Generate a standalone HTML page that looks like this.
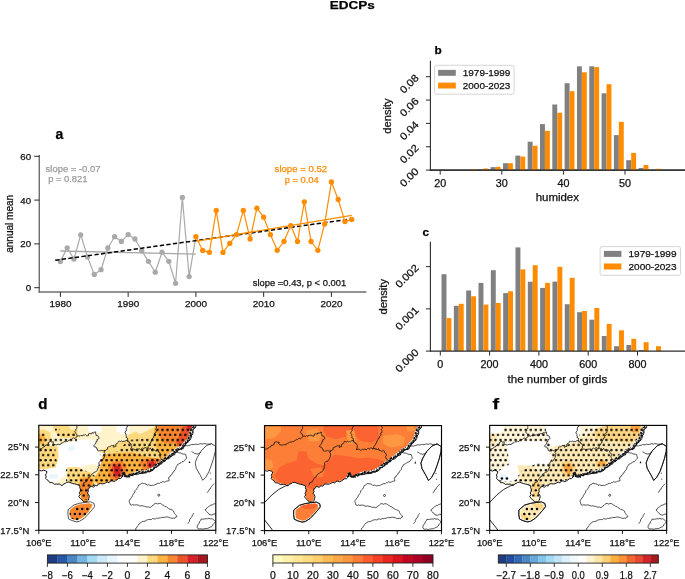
<!DOCTYPE html>
<html><head><meta charset="utf-8"><style>
html,body{margin:0;padding:0;background:#fff;width:685px;height:579px;overflow:hidden}
svg{display:block;will-change:transform}
text{font-family:"Liberation Sans", sans-serif}
</style></head><body>
<svg width="685" height="579" viewBox="0 0 685 579">
<rect width="685" height="579" fill="#fff"/>
<text x="352.20" y="9.10" font-size="11.8" fill="#000" stroke="#000" stroke-width="0.25" text-anchor="middle" font-weight="bold" textLength="45.00" lengthAdjust="spacingAndGlyphs" >EDCPs</text>
<line x1="39.30" y1="155.00" x2="39.30" y2="292.60" stroke="#6e6e6e" stroke-width="1.45" />
<line x1="38.60" y1="291.95" x2="366.40" y2="291.95" stroke="#6e6e6e" stroke-width="1.45" />
<line x1="34.20" y1="287.70" x2="39.40" y2="287.70" stroke="#2b2b2b" stroke-width="1.0" />
<text x="31.10" y="291.20" font-size="9.7" fill="#111" stroke="#111" stroke-width="0.25" text-anchor="end" >0</text>
<line x1="34.20" y1="243.90" x2="39.40" y2="243.90" stroke="#2b2b2b" stroke-width="1.0" />
<text x="31.10" y="247.40" font-size="9.7" fill="#111" stroke="#111" stroke-width="0.25" text-anchor="end" >20</text>
<line x1="34.20" y1="200.10" x2="39.40" y2="200.10" stroke="#2b2b2b" stroke-width="1.0" />
<text x="31.10" y="203.60" font-size="9.7" fill="#111" stroke="#111" stroke-width="0.25" text-anchor="end" >40</text>
<line x1="34.20" y1="156.30" x2="39.40" y2="156.30" stroke="#2b2b2b" stroke-width="1.0" />
<text x="31.10" y="159.80" font-size="9.7" fill="#111" stroke="#111" stroke-width="0.25" text-anchor="end" >60</text>
<line x1="60.40" y1="292.10" x2="60.40" y2="296.90" stroke="#2b2b2b" stroke-width="1.0" />
<text x="60.60" y="307.00" font-size="9.7" fill="#111" stroke="#111" stroke-width="0.25" text-anchor="middle" textLength="22.00" lengthAdjust="spacingAndGlyphs" >1980</text>
<line x1="128.15" y1="292.10" x2="128.15" y2="296.90" stroke="#2b2b2b" stroke-width="1.0" />
<text x="128.35" y="307.00" font-size="9.7" fill="#111" stroke="#111" stroke-width="0.25" text-anchor="middle" textLength="22.00" lengthAdjust="spacingAndGlyphs" >1990</text>
<line x1="195.90" y1="292.10" x2="195.90" y2="296.90" stroke="#2b2b2b" stroke-width="1.0" />
<text x="196.10" y="307.00" font-size="9.7" fill="#111" stroke="#111" stroke-width="0.25" text-anchor="middle" textLength="22.00" lengthAdjust="spacingAndGlyphs" >2000</text>
<line x1="263.65" y1="292.10" x2="263.65" y2="296.90" stroke="#2b2b2b" stroke-width="1.0" />
<text x="263.85" y="307.00" font-size="9.7" fill="#111" stroke="#111" stroke-width="0.25" text-anchor="middle" textLength="22.00" lengthAdjust="spacingAndGlyphs" >2010</text>
<line x1="331.40" y1="292.10" x2="331.40" y2="296.90" stroke="#2b2b2b" stroke-width="1.0" />
<text x="331.60" y="307.00" font-size="9.7" fill="#111" stroke="#111" stroke-width="0.25" text-anchor="middle" textLength="22.00" lengthAdjust="spacingAndGlyphs" >2020</text>
<text x="13.20" y="223.80" font-size="10" fill="#111" stroke="#111" stroke-width="0.25" text-anchor="middle" textLength="58.00" lengthAdjust="spacingAndGlyphs" transform="rotate(-90 13.20 223.80)" >annual mean</text>
<text x="55.60" y="138.80" font-size="14" fill="#000" stroke="#000" stroke-width="0.25" font-weight="bold" >a</text>
<line x1="60.40" y1="251.00" x2="195.90" y2="254.10" stroke="#a9a9a9" stroke-width="1.3" />
<polyline points="60.40,261.50 67.17,247.80 73.95,259.10 80.72,234.80 87.50,256.90 94.28,274.40 101.05,269.70 107.83,248.00 114.60,236.70 121.38,241.40 128.15,234.60 134.93,239.00 141.70,250.80 148.47,261.30 155.25,272.20 162.03,252.20 168.80,261.30 175.58,283.30 182.35,197.50 189.12,276.60 195.90,236.70" stroke="#a9a9a9" stroke-width="1.2" fill="none" stroke-linejoin="round" />
<circle cx="60.40" cy="261.50" r="2.65" fill="#a9a9a9"/>
<circle cx="67.17" cy="247.80" r="2.65" fill="#a9a9a9"/>
<circle cx="73.95" cy="259.10" r="2.65" fill="#a9a9a9"/>
<circle cx="80.72" cy="234.80" r="2.65" fill="#a9a9a9"/>
<circle cx="87.50" cy="256.90" r="2.65" fill="#a9a9a9"/>
<circle cx="94.28" cy="274.40" r="2.65" fill="#a9a9a9"/>
<circle cx="101.05" cy="269.70" r="2.65" fill="#a9a9a9"/>
<circle cx="107.83" cy="248.00" r="2.65" fill="#a9a9a9"/>
<circle cx="114.60" cy="236.70" r="2.65" fill="#a9a9a9"/>
<circle cx="121.38" cy="241.40" r="2.65" fill="#a9a9a9"/>
<circle cx="128.15" cy="234.60" r="2.65" fill="#a9a9a9"/>
<circle cx="134.93" cy="239.00" r="2.65" fill="#a9a9a9"/>
<circle cx="141.70" cy="250.80" r="2.65" fill="#a9a9a9"/>
<circle cx="148.47" cy="261.30" r="2.65" fill="#a9a9a9"/>
<circle cx="155.25" cy="272.20" r="2.65" fill="#a9a9a9"/>
<circle cx="162.03" cy="252.20" r="2.65" fill="#a9a9a9"/>
<circle cx="168.80" cy="261.30" r="2.65" fill="#a9a9a9"/>
<circle cx="175.58" cy="283.30" r="2.65" fill="#a9a9a9"/>
<circle cx="182.35" cy="197.50" r="2.65" fill="#a9a9a9"/>
<circle cx="189.12" cy="276.60" r="2.65" fill="#a9a9a9"/>
<line x1="53.62" y1="260.50" x2="351.72" y2="218.90" stroke="#000" stroke-width="1.5" stroke-dasharray="4.3 2.3" stroke-dashoffset="-1.6"/>
<line x1="195.90" y1="241.30" x2="351.72" y2="215.30" stroke="#ff8c00" stroke-width="1.3" />
<polyline points="195.90,236.70 202.68,250.40 209.45,252.30 216.23,210.40 223.00,252.40 229.78,243.40 236.55,234.60 243.33,210.40 250.10,239.00 256.88,208.20 263.65,217.20 270.43,234.60 277.20,250.30 283.98,241.50 290.75,225.60 297.52,241.50 304.30,201.80 311.07,241.50 317.85,250.30 324.62,223.90 331.40,182.00 338.18,199.50 344.95,221.60 351.72,219.40" stroke="#ff8c00" stroke-width="1.2" fill="none" stroke-linejoin="round" />
<circle cx="195.90" cy="236.70" r="2.65" fill="#ff8c00"/>
<circle cx="202.68" cy="250.40" r="2.65" fill="#ff8c00"/>
<circle cx="209.45" cy="252.30" r="2.65" fill="#ff8c00"/>
<circle cx="216.23" cy="210.40" r="2.65" fill="#ff8c00"/>
<circle cx="223.00" cy="252.40" r="2.65" fill="#ff8c00"/>
<circle cx="229.78" cy="243.40" r="2.65" fill="#ff8c00"/>
<circle cx="236.55" cy="234.60" r="2.65" fill="#ff8c00"/>
<circle cx="243.33" cy="210.40" r="2.65" fill="#ff8c00"/>
<circle cx="250.10" cy="239.00" r="2.65" fill="#ff8c00"/>
<circle cx="256.88" cy="208.20" r="2.65" fill="#ff8c00"/>
<circle cx="263.65" cy="217.20" r="2.65" fill="#ff8c00"/>
<circle cx="270.43" cy="234.60" r="2.65" fill="#ff8c00"/>
<circle cx="277.20" cy="250.30" r="2.65" fill="#ff8c00"/>
<circle cx="283.98" cy="241.50" r="2.65" fill="#ff8c00"/>
<circle cx="290.75" cy="225.60" r="2.65" fill="#ff8c00"/>
<circle cx="297.52" cy="241.50" r="2.65" fill="#ff8c00"/>
<circle cx="304.30" cy="201.80" r="2.65" fill="#ff8c00"/>
<circle cx="311.07" cy="241.50" r="2.65" fill="#ff8c00"/>
<circle cx="317.85" cy="250.30" r="2.65" fill="#ff8c00"/>
<circle cx="324.62" cy="223.90" r="2.65" fill="#ff8c00"/>
<circle cx="331.40" cy="182.00" r="2.65" fill="#ff8c00"/>
<circle cx="338.18" cy="199.50" r="2.65" fill="#ff8c00"/>
<circle cx="344.95" cy="221.60" r="2.65" fill="#ff8c00"/>
<circle cx="351.72" cy="219.40" r="2.65" fill="#ff8c00"/>
<text x="45.60" y="171.90" font-size="9.7" fill="#9b9b9b" stroke="#9b9b9b" stroke-width="0.25" textLength="54.80" lengthAdjust="spacingAndGlyphs" >slope = -0.07</text>
<text x="48.20" y="182.40" font-size="9.7" fill="#9b9b9b" stroke="#9b9b9b" stroke-width="0.25" textLength="39.20" lengthAdjust="spacingAndGlyphs" >p = 0.821</text>
<text x="274.60" y="171.70" font-size="9.7" fill="#ff8c00" stroke="#ff8c00" stroke-width="0.25" textLength="52.50" lengthAdjust="spacingAndGlyphs" >slope = 0.52</text>
<text x="284.80" y="182.50" font-size="9.7" fill="#ff8c00" stroke="#ff8c00" stroke-width="0.25" textLength="33.90" lengthAdjust="spacingAndGlyphs" >p = 0.04</text>
<text x="252.80" y="286.30" font-size="9.7" fill="#111" stroke="#111" stroke-width="0.25" textLength="93.40" lengthAdjust="spacingAndGlyphs" >slope =0.43, p &lt; 0.001</text>
<line x1="430.40" y1="60.80" x2="430.40" y2="170.60" stroke="#2b2b2b" stroke-width="1.1" />
<line x1="429.90" y1="170.10" x2="685.00" y2="170.10" stroke="#2b2b2b" stroke-width="1.1" />
<rect x="471.00" y="169.10" width="4.93" height="1.00" fill="#ff8c00" />
<rect x="478.39" y="169.10" width="4.93" height="1.00" fill="#808080" />
<rect x="483.32" y="168.50" width="4.93" height="1.60" fill="#ff8c00" />
<rect x="490.71" y="167.10" width="4.93" height="3.00" fill="#808080" />
<rect x="495.64" y="166.80" width="4.93" height="3.30" fill="#ff8c00" />
<rect x="503.03" y="163.20" width="4.93" height="6.90" fill="#808080" />
<rect x="507.96" y="163.20" width="4.93" height="6.90" fill="#ff8c00" />
<rect x="515.35" y="155.60" width="4.93" height="14.50" fill="#808080" />
<rect x="520.28" y="156.60" width="4.93" height="13.50" fill="#ff8c00" />
<rect x="527.67" y="141.70" width="4.93" height="28.40" fill="#808080" />
<rect x="532.60" y="145.70" width="4.93" height="24.40" fill="#ff8c00" />
<rect x="539.99" y="124.10" width="4.93" height="46.00" fill="#808080" />
<rect x="544.92" y="130.80" width="4.93" height="39.30" fill="#ff8c00" />
<rect x="552.31" y="104.50" width="4.93" height="65.60" fill="#808080" />
<rect x="557.24" y="112.80" width="4.93" height="57.30" fill="#ff8c00" />
<rect x="564.63" y="83.20" width="4.93" height="86.90" fill="#808080" />
<rect x="569.56" y="91.20" width="4.93" height="78.90" fill="#ff8c00" />
<rect x="576.95" y="66.30" width="4.93" height="103.80" fill="#808080" />
<rect x="581.88" y="72.30" width="4.93" height="97.80" fill="#ff8c00" />
<rect x="589.27" y="66.30" width="4.93" height="103.80" fill="#808080" />
<rect x="594.20" y="67.10" width="4.93" height="103.00" fill="#ff8c00" />
<rect x="601.59" y="93.30" width="4.93" height="76.80" fill="#808080" />
<rect x="606.52" y="84.20" width="4.93" height="85.90" fill="#ff8c00" />
<rect x="613.91" y="135.10" width="4.93" height="35.00" fill="#808080" />
<rect x="618.84" y="121.90" width="4.93" height="48.20" fill="#ff8c00" />
<rect x="626.23" y="160.20" width="4.93" height="9.90" fill="#808080" />
<rect x="631.16" y="152.90" width="4.93" height="17.20" fill="#ff8c00" />
<rect x="638.55" y="168.00" width="4.93" height="2.10" fill="#808080" />
<rect x="643.48" y="165.00" width="4.93" height="5.10" fill="#ff8c00" />
<rect x="655.80" y="168.80" width="4.93" height="1.30" fill="#ff8c00" />
<line x1="429.90" y1="170.10" x2="685.00" y2="170.10" stroke="#2b2b2b" stroke-width="1.1" />
<line x1="440.20" y1="170.10" x2="440.20" y2="174.60" stroke="#2b2b2b" stroke-width="1.0" />
<text x="440.20" y="186.70" font-size="10.2" fill="#111" stroke="#111" stroke-width="0.25" text-anchor="middle" textLength="12.00" lengthAdjust="spacingAndGlyphs" >20</text>
<line x1="501.80" y1="170.10" x2="501.80" y2="174.60" stroke="#2b2b2b" stroke-width="1.0" />
<text x="501.80" y="186.70" font-size="10.2" fill="#111" stroke="#111" stroke-width="0.25" text-anchor="middle" textLength="12.00" lengthAdjust="spacingAndGlyphs" >30</text>
<line x1="563.40" y1="170.10" x2="563.40" y2="174.60" stroke="#2b2b2b" stroke-width="1.0" />
<text x="563.40" y="186.70" font-size="10.2" fill="#111" stroke="#111" stroke-width="0.25" text-anchor="middle" textLength="12.00" lengthAdjust="spacingAndGlyphs" >40</text>
<line x1="625.00" y1="170.10" x2="625.00" y2="174.60" stroke="#2b2b2b" stroke-width="1.0" />
<text x="625.00" y="186.70" font-size="10.2" fill="#111" stroke="#111" stroke-width="0.25" text-anchor="middle" textLength="12.00" lengthAdjust="spacingAndGlyphs" >50</text>
<line x1="425.90" y1="170.10" x2="430.40" y2="170.10" stroke="#2b2b2b" stroke-width="1.0" />
<line x1="425.90" y1="146.75" x2="430.40" y2="146.75" stroke="#2b2b2b" stroke-width="1.0" />
<line x1="425.90" y1="123.40" x2="430.40" y2="123.40" stroke="#2b2b2b" stroke-width="1.0" />
<line x1="425.90" y1="100.05" x2="430.40" y2="100.05" stroke="#2b2b2b" stroke-width="1.0" />
<line x1="425.90" y1="76.70" x2="430.40" y2="76.70" stroke="#2b2b2b" stroke-width="1.0" />
<text x="557.30" y="201.30" font-size="10.4" fill="#111" stroke="#111" stroke-width="0.25" text-anchor="middle" textLength="43.30" lengthAdjust="spacingAndGlyphs" >humidex</text>
<text x="391.00" y="116.00" font-size="10.2" fill="#111" stroke="#111" stroke-width="0.25" text-anchor="middle" textLength="35.40" lengthAdjust="spacingAndGlyphs" transform="rotate(-90 391.00 116.00)" >density</text>
<text x="434.40" y="53.80" font-size="11.8" fill="#000" stroke="#000" stroke-width="0.25" font-weight="bold" >b</text>
<rect x="434.6" y="65.3" width="79.5" height="28.9" rx="2" ry="2" fill="#fff" stroke="#d0d0d0" stroke-width="0.9"/>
<rect x="438.10" y="69.90" width="17.70" height="5.90" fill="#808080" />
<rect x="438.10" y="82.60" width="17.70" height="5.90" fill="#ff8c00" />
<text x="462.80" y="76.30" font-size="9.8" fill="#111" stroke="#111" stroke-width="0.25" textLength="47.60" lengthAdjust="spacingAndGlyphs" >1979-1999</text>
<text x="462.80" y="88.70" font-size="9.8" fill="#111" stroke="#111" stroke-width="0.25" textLength="47.60" lengthAdjust="spacingAndGlyphs" >2000-2023</text>
<line x1="430.40" y1="241.70" x2="430.40" y2="351.60" stroke="#2b2b2b" stroke-width="1.1" />
<rect x="441.53" y="274.20" width="4.93" height="76.90" fill="#808080" />
<rect x="446.46" y="318.10" width="4.93" height="33.00" fill="#ff8c00" />
<rect x="453.86" y="305.80" width="4.93" height="45.30" fill="#808080" />
<rect x="458.79" y="303.80" width="4.93" height="47.30" fill="#ff8c00" />
<rect x="466.18" y="290.50" width="4.93" height="60.60" fill="#808080" />
<rect x="471.11" y="296.30" width="4.93" height="54.80" fill="#ff8c00" />
<rect x="478.51" y="282.90" width="4.93" height="68.20" fill="#808080" />
<rect x="483.44" y="304.60" width="4.93" height="46.50" fill="#ff8c00" />
<rect x="490.83" y="270.20" width="4.93" height="80.90" fill="#808080" />
<rect x="495.76" y="303.00" width="4.93" height="48.10" fill="#ff8c00" />
<rect x="503.16" y="293.10" width="4.93" height="58.00" fill="#808080" />
<rect x="508.09" y="291.30" width="4.93" height="59.80" fill="#ff8c00" />
<rect x="515.48" y="247.40" width="4.93" height="103.70" fill="#808080" />
<rect x="520.41" y="269.40" width="4.93" height="81.70" fill="#ff8c00" />
<rect x="527.81" y="281.70" width="4.93" height="69.40" fill="#808080" />
<rect x="532.74" y="265.20" width="4.93" height="85.90" fill="#ff8c00" />
<rect x="540.13" y="287.90" width="4.93" height="63.20" fill="#808080" />
<rect x="545.06" y="282.90" width="4.93" height="68.20" fill="#ff8c00" />
<rect x="552.46" y="281.60" width="4.93" height="69.50" fill="#808080" />
<rect x="557.39" y="266.80" width="4.93" height="84.30" fill="#ff8c00" />
<rect x="564.78" y="304.20" width="4.93" height="46.90" fill="#808080" />
<rect x="569.71" y="277.80" width="4.93" height="73.30" fill="#ff8c00" />
<rect x="577.11" y="312.20" width="4.93" height="38.90" fill="#808080" />
<rect x="582.04" y="311.00" width="4.93" height="40.10" fill="#ff8c00" />
<rect x="589.43" y="319.70" width="4.93" height="31.40" fill="#808080" />
<rect x="594.36" y="308.00" width="4.93" height="43.10" fill="#ff8c00" />
<rect x="601.76" y="336.00" width="4.93" height="15.10" fill="#808080" />
<rect x="606.69" y="323.90" width="4.93" height="27.20" fill="#ff8c00" />
<rect x="614.08" y="346.20" width="4.93" height="4.90" fill="#808080" />
<rect x="619.01" y="330.30" width="4.93" height="20.80" fill="#ff8c00" />
<rect x="626.41" y="345.00" width="4.93" height="6.10" fill="#808080" />
<rect x="631.34" y="338.80" width="4.93" height="12.30" fill="#ff8c00" />
<rect x="638.73" y="350.00" width="4.93" height="1.10" fill="#808080" />
<rect x="643.66" y="342.20" width="4.93" height="8.90" fill="#ff8c00" />
<rect x="655.99" y="346.20" width="4.93" height="4.90" fill="#ff8c00" />
<line x1="429.90" y1="351.10" x2="685.00" y2="351.10" stroke="#2b2b2b" stroke-width="1.1" />
<line x1="440.30" y1="351.10" x2="440.30" y2="355.60" stroke="#2b2b2b" stroke-width="1.0" />
<text x="440.30" y="367.90" font-size="10.2" fill="#111" stroke="#111" stroke-width="0.25" text-anchor="middle" textLength="6.00" lengthAdjust="spacingAndGlyphs" >0</text>
<line x1="489.60" y1="351.10" x2="489.60" y2="355.60" stroke="#2b2b2b" stroke-width="1.0" />
<text x="489.60" y="367.90" font-size="10.2" fill="#111" stroke="#111" stroke-width="0.25" text-anchor="middle" textLength="18.00" lengthAdjust="spacingAndGlyphs" >200</text>
<line x1="538.90" y1="351.10" x2="538.90" y2="355.60" stroke="#2b2b2b" stroke-width="1.0" />
<text x="538.90" y="367.90" font-size="10.2" fill="#111" stroke="#111" stroke-width="0.25" text-anchor="middle" textLength="18.00" lengthAdjust="spacingAndGlyphs" >400</text>
<line x1="588.20" y1="351.10" x2="588.20" y2="355.60" stroke="#2b2b2b" stroke-width="1.0" />
<text x="588.20" y="367.90" font-size="10.2" fill="#111" stroke="#111" stroke-width="0.25" text-anchor="middle" textLength="18.00" lengthAdjust="spacingAndGlyphs" >600</text>
<line x1="637.50" y1="351.10" x2="637.50" y2="355.60" stroke="#2b2b2b" stroke-width="1.0" />
<text x="637.50" y="367.90" font-size="10.2" fill="#111" stroke="#111" stroke-width="0.25" text-anchor="middle" textLength="18.00" lengthAdjust="spacingAndGlyphs" >800</text>
<line x1="425.90" y1="351.10" x2="430.40" y2="351.10" stroke="#2b2b2b" stroke-width="1.0" />
<line x1="425.90" y1="308.85" x2="430.40" y2="308.85" stroke="#2b2b2b" stroke-width="1.0" />
<line x1="425.90" y1="266.60" x2="430.40" y2="266.60" stroke="#2b2b2b" stroke-width="1.0" />
<text x="557.40" y="382.70" font-size="10.4" fill="#111" stroke="#111" stroke-width="0.25" text-anchor="middle" textLength="99.60" lengthAdjust="spacingAndGlyphs" >the number of girds</text>
<text x="386.80" y="296.80" font-size="10.2" fill="#111" stroke="#111" stroke-width="0.25" text-anchor="middle" textLength="35.60" lengthAdjust="spacingAndGlyphs" transform="rotate(-90 386.80 296.80)" >density</text>
<text x="422.60" y="235.90" font-size="11.8" fill="#000" stroke="#000" stroke-width="0.25" font-weight="bold" >c</text>
<rect x="600.1" y="246.6" width="80.4" height="28.7" rx="2" ry="2" fill="#fff" stroke="#d0d0d0" stroke-width="0.9"/>
<rect x="603.90" y="250.90" width="17.50" height="6.00" fill="#808080" />
<rect x="603.90" y="263.50" width="17.50" height="6.00" fill="#ff8c00" />
<text x="628.50" y="257.00" font-size="9.8" fill="#111" stroke="#111" stroke-width="0.25" textLength="48.00" lengthAdjust="spacingAndGlyphs" >1979-1999</text>
<text x="628.50" y="270.10" font-size="9.8" fill="#111" stroke="#111" stroke-width="0.25" textLength="48.00" lengthAdjust="spacingAndGlyphs" >2000-2023</text>
<text x="419.40" y="172.00" font-size="10.2" fill="#111" stroke="#111" stroke-width="0.25" text-anchor="end" textLength="21.80" lengthAdjust="spacingAndGlyphs" transform="rotate(-45 419.40 172.00)" >0.00</text>
<text x="419.40" y="148.65" font-size="10.2" fill="#111" stroke="#111" stroke-width="0.25" text-anchor="end" textLength="21.80" lengthAdjust="spacingAndGlyphs" transform="rotate(-45 419.40 148.65)" >0.02</text>
<text x="419.40" y="125.30" font-size="10.2" fill="#111" stroke="#111" stroke-width="0.25" text-anchor="end" textLength="21.80" lengthAdjust="spacingAndGlyphs" transform="rotate(-45 419.40 125.30)" >0.04</text>
<text x="419.40" y="101.95" font-size="10.2" fill="#111" stroke="#111" stroke-width="0.25" text-anchor="end" textLength="21.80" lengthAdjust="spacingAndGlyphs" transform="rotate(-45 419.40 101.95)" >0.06</text>
<text x="419.40" y="78.60" font-size="10.2" fill="#111" stroke="#111" stroke-width="0.25" text-anchor="end" textLength="21.80" lengthAdjust="spacingAndGlyphs" transform="rotate(-45 419.40 78.60)" >0.08</text>
<text x="419.40" y="353.00" font-size="10.2" fill="#111" stroke="#111" stroke-width="0.25" text-anchor="end" textLength="28.30" lengthAdjust="spacingAndGlyphs" transform="rotate(-45 419.40 353.00)" >0.000</text>
<text x="419.40" y="310.75" font-size="10.2" fill="#111" stroke="#111" stroke-width="0.25" text-anchor="end" textLength="28.30" lengthAdjust="spacingAndGlyphs" transform="rotate(-45 419.40 310.75)" >0.001</text>
<text x="419.40" y="268.50" font-size="10.2" fill="#111" stroke="#111" stroke-width="0.25" text-anchor="end" textLength="28.30" lengthAdjust="spacingAndGlyphs" transform="rotate(-45 419.40 268.50)" >0.002</text>
<defs>
<clipPath id="landclip"><path d="M-1.0,-1.0 L154.4,-1.0 L154.4,0.0 L151.8,2.7 L150.5,6.0 L149.8,9.9 L147.8,13.9 L143.9,17.8 L141.3,21.7 L138.0,22.4 L134.7,25.7 L129.4,29.6 L124.2,33.6 L118.9,37.5 L113.7,41.4 L107.1,44.7 L100.5,45.4 L95.3,46.7 L91.3,49.3 L88.0,50.5 L86.1,48.3 L84.5,45.8 L83.5,47.7 L82.2,50.9 L78.2,54.3 L71.7,56.2 L65.1,57.5 L59.8,58.9 L54.6,60.8 L51.8,60.5 L49.8,63.1 L49.1,67.7 L49.8,73.0 L47.8,75.6 L45.2,76.2 L43.2,74.3 L41.0,71.0 L41.2,65.7 L41.4,60.2 L37.5,58.9 L32.2,57.5 L27.8,56.8 L23.6,59.5 L17.5,58.5 L11.5,56.5 L8.2,54.4 L7.0,49.6 L8.5,45.9 L3.0,44.6 L-1.0,43.6 Z M31.0,84.7 L36.0,80.6 L40.8,79.1 L45.9,78.4 L50.4,77.9 L53.4,79.2 L53.9,82.0 L51.3,85.3 L48.3,88.6 L45.0,92.0 L40.8,94.6 L38.3,95.1 L34.5,94.0 L31.5,92.6 L30.9,88.8 Z"/></clipPath>
<clipPath id="frameclip"><rect x="0" y="0" width="177.0" height="105.0"/></clipPath>
<pattern id="stipd" patternUnits="userSpaceOnUse" x="3.03" y="7.07" width="5.08" height="10.1"><circle cx="1.270" cy="2.525" r="1.25" fill="#000"/><circle cx="3.810" cy="7.575" r="1.25" fill="#000"/></pattern>
<pattern id="stipf" patternUnits="userSpaceOnUse" x="67.54" y="17.08" width="5.04" height="10.08"><circle cx="1.260" cy="2.520" r="1.25" fill="#000"/><circle cx="3.780" cy="7.560" r="1.25" fill="#000"/></pattern>
</defs>
<g transform="translate(38.8,425.3)">
<g clip-path="url(#frameclip)">
<g clip-path="url(#landclip)">
<g transform="translate(-38.8,-425.3)">
<path d="M30.0,420.0 L230.0,420.0 L230.0,540.0 L30.0,540.0 Z" fill="#fff3cc" stroke="#fff3cc" stroke-width="1.2" stroke-linejoin="round"/>
<path d="M55.5,452.0 L60.8,445.0 L69.5,442.4 L80.0,440.6 L88.8,439.8 L94.1,440.6 L95.8,448.5 L99.3,452.0 L104.6,453.8 L106.3,459.0 L102.8,464.3 L97.6,464.3 L92.3,463.4 L87.1,464.3 L81.8,466.0 L78.3,469.6 L74.8,471.3 L71.3,468.7 L66.0,473.1 L62.5,476.6 L57.3,481.8 L48.5,481.8 L43.3,476.6 L45.0,469.6 L53.8,466.0 L57.3,459.0 Z M88.0,425.8 L100.0,425.8 L101.0,431.0 L96.0,433.0 L89.0,431.0 Z M117.0,425.8 L128.0,425.8 L128.5,432.0 L122.0,434.0 L117.0,431.0 Z" fill="#ffffff" stroke="#ffffff" stroke-width="1.2" stroke-linejoin="round"/>
<path d="M69.0,447.0 L73.0,446.0 L75.0,449.0 L71.0,450.5 L68.0,449.5 Z M50.0,475.0 L56.0,474.0 L58.0,477.0 L53.0,478.5 L49.0,477.5 Z" fill="#e8f5fb" stroke="#e8f5fb" stroke-width="1.2" stroke-linejoin="round"/>
<path d="M53.0,425.5 L68.0,425.5 L70.0,430.0 L77.0,430.0 L77.0,437.5 L62.0,437.5 L58.0,434.0 L55.0,431.0 Z M38.5,430.4 L44.0,430.0 L50.0,433.0 L50.0,440.0 L47.0,446.0 L57.0,447.0 L58.0,455.0 L57.0,461.0 L55.0,467.0 L46.0,468.5 L38.5,468.5 Z M67.8,467.8 L78.3,467.8 L83.5,471.3 L90.6,473.1 L95.8,476.6 L97.6,481.8 L90.6,483.6 L80.0,484.4 L69.5,483.6 L67.8,476.6 Z M100.0,452.0 L110.0,447.0 L125.0,441.0 L135.0,437.0 L150.0,430.0 L157.0,426.0 L155.8,441.5 L157.6,450.3 L162.8,459.0 L150.0,458.0 L130.0,453.0 L110.0,453.0 Z M128.0,436.0 L136.0,432.0 L140.0,436.0 L134.0,441.0 L128.0,440.0 Z" fill="#fdd97f" stroke="#fdd97f" stroke-width="1.2" stroke-linejoin="round"/>
<path d="M38.0,435.5 L43.0,435.0 L44.8,438.5 L43.5,442.8 L38.0,443.3 Z M103.3,455.0 L116.8,453.5 L133.0,453.0 L147.1,457.3 L157.6,459.0 L162.8,460.8 L157.6,466.0 L150.6,471.3 L140.0,474.8 L129.5,476.6 L119.0,480.1 L108.5,483.6 L98.0,484.4 L95.0,478.0 L100.0,470.0 L102.0,462.0 Z M155.8,425.8 L192.6,425.8 L190.9,434.5 L185.6,441.5 L176.8,446.8 L168.1,453.8 L162.8,459.0 L157.6,450.3 L155.8,441.5 L154.1,432.8 Z M80.0,478.3 L88.8,476.6 L94.1,480.1 L91.0,494.0 L88.0,501.0 L82.0,500.0 L80.0,490.0 Z" fill="#fdb33f" stroke="#fdb33f" stroke-width="1.2" stroke-linejoin="round"/>
<path d="M109.0,466.0 L114.0,462.0 L121.0,461.5 L126.0,465.0 L126.0,472.0 L122.0,478.5 L114.0,480.5 L109.0,476.0 Z M140.0,462.0 L147.0,459.0 L155.0,458.5 L161.0,459.5 L158.0,466.0 L152.0,470.5 L144.0,470.5 Z M158.0,426.0 L192.0,426.0 L190.0,434.0 L184.0,441.0 L178.0,443.0 L170.0,443.0 L163.0,442.0 L160.0,436.0 Z M81.0,480.0 L89.0,478.0 L91.5,482.0 L89.5,494.0 L86.0,500.0 L82.0,498.0 L81.0,489.0 Z M68.0,505.0 L74.0,502.0 L82.0,501.0 L92.0,500.0 L92.5,504.0 L88.0,512.0 L81.0,518.0 L74.0,520.0 L70.0,516.0 L68.0,510.0 Z" fill="#f8862f" stroke="#f8862f" stroke-width="1.2" stroke-linejoin="round"/>
<path d="M113.0,464.5 L120.0,464.0 L122.0,469.0 L121.0,476.5 L116.0,478.0 L112.5,471.0 Z M147.5,461.0 L155.0,460.5 L156.5,465.5 L152.0,469.5 L147.5,467.0 Z M183.0,427.0 L191.0,426.0 L190.5,434.0 L187.0,440.0 L182.0,445.0 L178.0,446.0 L177.0,441.0 L180.0,436.0 Z" fill="#ea5228" stroke="#ea5228" stroke-width="1.2" stroke-linejoin="round"/>
<path d="M115.0,466.5 L119.0,466.5 L120.0,471.0 L118.5,475.5 L115.5,475.0 L114.5,470.0 Z M149.5,463.0 L153.5,462.5 L154.0,466.5 L150.5,468.0 Z M188.0,426.0 L192.0,426.0 L191.0,430.0 L188.0,430.0 Z" fill="#d6202a" stroke="#d6202a" stroke-width="1.2" stroke-linejoin="round"/>
</g>
<path d="M-0.3,6.7 L7.2,6.7 L7.2,12.2 L17.2,12.2 L17.2,6.7 L38.2,6.7 L38.2,17.0 L16.7,17.0 L16.7,31.7 L18.7,37.2 L16.2,42.7 L-0.3,42.7 Z M16.2,1.2 L21.2,1.2 L21.2,5.2 L16.2,5.2 Z M27.2,42.7 L41.2,42.7 L53.2,48.7 L59.2,52.7 L59.2,60.7 L27.2,60.7 Z M39.2,52.7 L56.2,50.7 L56.2,74.7 L39.2,74.7 Z M61.2,28.7 L79.2,25.7 L89.2,14.7 L101.2,13.7 L111.2,12.7 L117.2,4.7 L119.2,0.7 L156.2,0.7 L151.2,14.7 L131.2,29.7 L121.2,39.7 L101.2,52.7 L71.2,60.7 L59.2,60.7 Z" fill="url(#stipd)"/>
<circle cx="38.40" cy="83.70" r="1.25" fill="#000"/>
<circle cx="43.40" cy="83.70" r="1.25" fill="#000"/>
<circle cx="48.60" cy="83.70" r="1.25" fill="#000"/>
<circle cx="31.10" cy="88.70" r="1.25" fill="#000"/>
<circle cx="36.10" cy="88.70" r="1.25" fill="#000"/>
<circle cx="41.10" cy="88.70" r="1.25" fill="#000"/>
<circle cx="46.00" cy="88.70" r="1.25" fill="#000"/>
<circle cx="33.50" cy="93.60" r="1.25" fill="#000"/>
<circle cx="38.40" cy="93.60" r="1.25" fill="#000"/>
</g>
<g fill="none" stroke="#111" stroke-width="0.72" stroke-linejoin="round">
<path d="M29.2,84.5 L35.0,79.7 L40.6,78.0 L46.5,77.1 L51.7,76.5 L55.2,78.1 L55.8,81.3 L52.8,85.1 L49.3,89.0 L45.5,93.0 L40.6,96.0 L37.7,96.5 L33.3,95.3 L29.8,93.6 L29.1,89.2 Z"/>
<path d="M0.7,23.6 L1.8,23.3 L3.2,23.3 L3.9,22.1 L4.9,21.6 L6.1,21.2 L6.5,20.0 L7.6,19.8 L8.6,19.3 L9.6,18.9 L9.6,17.2 L10.7,16.9 L11.2,15.9 L12.1,16.2 L13.1,16.7 L14.6,16.5 L14.3,18.4 L15.2,19.1 L16.5,19.4 L17.8,19.5 L19.2,19.0 L20.0,19.0 L21.5,19.3 L22.2,18.0 L23.3,17.7 L24.4,17.2 L25.3,16.3 L26.7,16.5 L27.7,16.0 L29.1,16.1 L29.9,15.1 L31.0,14.7 L31.8,14.1 L32.9,14.0 L33.6,13.2 L34.4,12.5 L36.0,13.2 L36.9,12.6 L37.7,11.7 L38.1,11.0 L39.3,10.5 L40.4,10.5 L41.2,10.9 L42.1,10.0 L43.6,10.7 L44.3,9.6 L45.3,9.9 L46.7,9.3 L47.9,10.5 L49.6,10.4 L49.8,8.5 L51.0,8.2 L52.7,8.6 L53.3,7.2 L54.6,7.9 L55.5,6.7 L56.6,6.6" stroke-width="0.8"/>
<path d="M38.2,10.6 L38.0,9.4 L37.5,8.3 L36.2,7.2 L36.1,6.1 L36.9,5.3 L36.9,4.2 L38.0,3.4 L38.1,2.1 L38.1,0.8 L38.2,-0.5" stroke-width="0.8"/>
<path d="M57.0,6.4 L56.7,7.8 L57.2,8.9 L57.4,10.3 L59.0,10.4 L59.6,11.3 L60.3,12.8 L59.6,13.8 L58.1,14.3 L58.4,15.9 L57.1,16.5 L57.2,17.7 L56.5,18.6 L55.8,19.5 L54.7,20.8 L55.7,21.4 L57.2,21.7 L57.4,22.8 L58.4,23.2 L58.5,24.9 L59.9,25.6 L60.9,25.4 L61.9,25.3 L62.9,25.0 L63.4,25.1 L64.5,25.5 L66.2,25.6 L65.4,27.1 L66.2,28.3 L66.0,29.4 L65.8,30.5 L65.5,31.7 L65.1,32.7 L64.5,33.7 L63.8,34.6 L63.3,35.7 L61.6,35.6 L60.7,36.6 L60.0,37.7 L60.2,39.0 L60.1,40.2 L59.4,41.2 L60.0,42.7 L58.6,43.5 L58.6,44.8 L57.9,45.9 L56.9,46.5 L55.6,46.7 L54.9,47.7 L53.8,48.3 L52.7,49.0 L52.1,50.1 L51.6,51.3 L50.4,51.7 L49.9,52.8 L49.1,53.5 L48.6,54.5 L47.8,55.3 L47.7,56.5 L46.3,56.8 L45.1,57.3 L45.0,58.8 L44.0,59.5" stroke-width="0.8"/>
<path d="M65.3,25.2 L66.8,25.2 L67.5,24.4 L68.7,24.0 L68.6,22.3 L69.3,21.6 L70.5,21.5 L71.6,21.0 L72.6,20.1 L73.9,20.4 L75.1,19.8 L74.8,21.2 L75.0,22.1 L75.7,21.2 L77.3,20.9 L76.9,19.5 L77.3,18.5 L78.5,18.2 L79.2,17.3 L79.6,16.0 L80.9,15.9 L81.9,16.2 L83.1,15.5 L84.0,16.5 L85.2,15.7 L86.0,16.2 L87.1,15.2 L89.0,14.8 L89.0,16.6 L90.5,16.5 L90.6,17.8 L92.1,18.3 L92.6,19.5 L92.9,20.0 L92.6,21.3 L92.8,22.8 L91.5,23.7 L92.6,24.0 L94.0,23.5 L94.9,23.6 L96.1,24.9 L97.2,24.2 L98.3,23.5 L99.4,23.9 L100.4,23.4 L101.7,24.2 L102.7,23.5 L103.7,22.5 L105.0,23.6 L106.1,22.1 L107.2,22.6 L108.4,23.1" stroke-width="0.8"/>
<path d="M108.3,23.9 L109.6,22.3 L110.5,23.8 L111.6,22.8 L112.5,24.4 L114.0,22.9 L114.5,24.7 L115.6,24.7 L116.4,25.3 L117.3,25.9 L118.8,24.9 L119.9,25.6 L119.8,26.8 L121.0,27.5 L121.5,28.4 L122.1,29.5 L121.1,30.7 L121.3,31.8 L121.6,32.8 L122.8,33.7 L122.5,34.8" stroke-width="0.8"/>
<path d="M108.2,23.0 L108.9,22.2 L109.3,21.2 L109.9,20.4 L110.4,19.4 L111.3,18.8 L111.3,17.5 L112.5,16.9 L112.2,15.4 L113.2,14.9 L113.6,13.9 L113.7,12.8 L115.1,12.2 L114.8,10.9 L116.0,10.2 L116.6,9.3 L115.8,7.9 L117.2,7.2 L117.4,6.2 L117.5,5.1 L116.7,4.0 L117.5,2.9 L117.8,1.8 L117.2,0.6 L117.6,-0.5" stroke-width="0.8"/>
<path d="M88.7,15.2 L88.8,14.0 L88.7,12.8 L87.2,12.1 L87.6,10.8 L87.2,9.9 L87.2,8.9 L86.3,7.7 L86.3,6.7 L87.1,5.7 L87.8,4.8 L87.3,3.5 L88.0,2.6 L88.0,1.5 L89.3,0.7 L89.0,-0.5" stroke-width="0.8"/>
<path d="M172.5,18.3 L176.8,21.0 L176.5,26.0 L174.7,33.3 L172.5,40.0 L170.3,46.0 L167.0,52.0 L164.0,55.0 L161.5,50.0 L157.5,43.0 L156.4,37.5 L158.4,32.3 L162.3,25.7 L167.5,20.4 Z"/>
<path d="M137.5,26.4 L138.5,27.2 L139.7,27.4 L140.9,27.6 L142.2,27.7 L143.2,28.5 L144.4,28.8 L145.6,28.8 L146.8,29.1 L147.3,30.8 L147.8,32.8 L146.6,34.1 L145.6,35.4 L144.6,36.4 L143.2,36.4 L142.2,37.5 L141.1,38.0 L140.1,38.6 L138.8,39.2 L138.3,40.4 L137.5,41.4 L137.1,42.5 L136.9,43.8 L136.0,44.7 L135.2,45.7 L134.8,46.9 L133.6,47.5 L133.2,48.8 L132.5,49.8 L131.3,50.4 L131.0,51.7 L129.5,52.5 L130.2,53.8 L130.4,55.3 L129.2,55.7 L127.9,55.8 L126.7,56.4 L125.5,56.8 L124.1,56.3 L123.0,57.1 L121.7,57.1 L120.7,58.1 L119.4,57.9 L118.2,58.5 L117.2,59.0 L116.0,59.5 L115.0,60.1 L113.7,59.9 L112.3,60.3 L111.0,59.9 L109.7,59.4 L108.3,59.9 L107.2,58.7 L105.9,58.3 L104.5,58.2 L103.3,57.7 L102.2,58.5 L101.3,59.3 L99.9,59.7 L99.3,61.0 L98.9,62.3 L98.2,63.4 L97.1,64.3 L96.2,65.3 L96.0,66.7 L95.3,67.8 L94.6,68.9 L93.8,70.0 L93.4,71.4 L92.3,72.4 L91.6,73.6 L90.7,74.8 L90.3,75.9 L90.9,77.5 L91.3,79.2 L92.6,79.8 L94.0,79.4 L95.3,79.7 L96.6,79.6 L97.9,79.5 L99.3,79.7 L100.5,80.5 L101.8,80.6 L103.2,80.3 L104.5,80.8 L105.8,81.0 L107.1,81.5 L108.4,81.8 L109.8,81.6 L111.4,82.3 L112.4,81.5 L113.2,80.5 L114.4,80.0 L115.3,78.9 L116.3,78.1 L117.6,78.1 L118.9,78.7 L120.3,78.1 L121.6,78.1 L122.7,78.8 L123.8,79.6 L125.1,80.1 L126.0,81.1 L127.5,81.3 L128.4,82.3 L129.5,83.0 L130.8,83.8 L132.2,84.2 L133.5,84.8 L134.8,85.7 L135.1,87.0 L135.7,88.1 L136.5,89.1 L137.4,90.0 L138.2,91.3 L136.7,91.8 L136.0,93.1 L134.7,92.7 L133.3,93.1 L132.0,92.8 L130.8,92.1 L129.5,91.9 L128.2,91.6 L126.8,91.7 L125.5,92.1 L124.2,92.1 L122.8,92.0 L121.6,92.7 L120.2,92.7 L118.9,93.1 L117.6,92.9 L116.4,93.8 L114.9,93.4 L113.6,93.3 L112.4,94.4 L111.0,94.1 L109.7,94.3 L108.4,94.5 L107.4,95.2 L106.3,95.8 L105.1,96.1 L103.8,96.1 L102.7,96.5 L101.8,97.6 L100.8,97.9 L100.2,98.9 L99.6,100.0 L98.6,100.9 L98.2,102.1 L97.0,102.9 L96.8,104.5 L96.5,106.0"/>
<path d="M152.7,26.3 L153.9,26.9 L155.0,27.6 L156.1,28.3 L157.4,28.4 L158.3,28.8 L159.6,28.2 L160.9,27.9 L162.0,27.0"/>
<path d="M144.9,20.7 L146.2,20.5 L147.5,20.3 L148.8,20.6 L150.0,20.0 L151.4,19.9 L152.7,19.2 L154.2,19.3 L155.6,19.3 L157.0,18.8 L158.3,19.1 L159.7,19.0 L161.0,18.6 L162.3,18.3 L163.7,18.8 L165.0,18.3 L166.3,18.2 L167.6,18.8 L168.9,18.8 L170.2,18.8 L171.5,18.9 L172.8,18.5"/>
<path d="M155.0,87.8 L154.3,88.9 L153.5,90.0 L153.2,91.4 L152.3,92.4 L151.5,93.5 L150.8,94.6 L150.7,96.1 L149.7,97.1 L149.2,98.3"/>
<path d="M175.4,58.3 L174.5,59.3 L173.6,60.2 L172.7,61.2 L172.0,62.2 L171.5,63.5 L170.3,64.2 L169.8,65.5 L169.1,66.6 L168.2,67.5"/>
<path d="M178.0,78.0 L176.7,78.2 L175.5,78.6 L174.3,78.9 L173.3,79.8 L171.8,79.7 L171.0,80.7 L169.9,81.3 L169.0,82.1 L167.9,82.7 L167.3,83.9 L166.3,84.4 L167.0,85.5 L167.9,86.3 L168.7,87.3 L169.8,88.0 L170.4,89.2 L171.4,89.4 L172.8,89.7 L174.1,89.2 L175.3,88.6 L176.7,88.9 L178.0,88.5"/>
<path d="M162.3,93.6 L163.6,93.9 L164.9,93.8 L166.2,93.6 L167.5,93.3 L168.8,93.5 L170.2,92.9 L171.5,93.6 L172.8,93.4 L174.0,93.8 L175.0,94.6 L175.8,95.5 L176.7,96.4 L175.9,97.4 L174.9,98.3 L174.1,99.3 L173.7,100.6 L172.7,101.4 L171.4,101.7 L170.2,102.5 L168.9,103.1 L167.5,103.2 L166.2,103.4 L164.8,103.6 L163.3,103.9 L161.9,103.4 L160.4,103.7 L159.3,103.5 L158.4,102.0 L158.5,100.3 L159.2,98.9 L160.5,97.9 L160.7,96.3 L161.9,95.2 L162.3,93.7"/>
<path d="M176.6,96.5 L178.0,97.0"/>
<circle cx="120" cy="69.9" r="1.0"/>
<circle cx="171.5" cy="47.7" r="0.55" fill="#222" stroke="none"/>
<circle cx="172.1" cy="53.7" r="0.55" fill="#222" stroke="none"/>
<path d="M149.9,37.8 l0.9,-2.4 l0.9,2.4 z" fill="#111" stroke="none"/>
</g>
<path d="M158.0,-1.4 L157.1,0.3 L156.8,2.3 L155.4,3.2 L154.2,4.3 L154.2,7.0 L153.9,9.0 L152.3,10.7 L152.3,12.7 L151.5,14.3 L149.7,15.2 L149.0,17.1 L147.2,18.1 L146.3,19.8 L145.1,21.1 L144.7,23.0 L143.2,23.9 L141.3,24.0 L139.6,25.0 L137.9,26.3 L136.5,27.8 L135.7,29.6 L133.7,29.6 L132.4,30.8 L131.3,32.1 L130.2,33.4 L128.1,33.4 L127.2,34.9 L125.7,35.6 L124.2,36.3 L123.0,37.5 L121.5,38.2 L120.7,39.9 L118.9,40.4 L117.9,41.8 L116.1,42.2 L114.9,43.2 L114.0,45.1 L112.5,45.7 L111.0,46.3 L109.0,46.0 L107.9,47.5 L106.2,47.4 L104.5,48.1 L102.7,48.0 L101.0,48.3 L99.5,48.8 L97.9,48.8 L96.4,49.1 L94.7,49.1 L93.4,50.0 L91.8,50.1 L90.4,50.6 L88.9,50.9 L87.9,51.9 L85.9,51.0 L85.4,49.1 L83.6,47.8 L84.4,48.1 L84.1,50.1 L83.3,51.6 L82.0,53.2 L79.8,53.2 L78.3,54.5 L76.8,55.4 L75.2,56.2 L73.3,55.5 L71.6,55.7 L70.2,57.5 L68.4,56.7 L66.8,57.6 L65.3,58.3 L63.5,58.6 L61.5,58.3 L59.7,58.6 L58.4,60.5 L56.3,60.3 L54.6,61.8 L51.7,60.6 L51.2,62.2 L49.5,63.1 L49.1,64.6 L49.6,66.2 L48.6,67.8 L49.9,69.4 L50.5,71.2 L50.0,73.0 L49.6,74.9 L48.1,76.3 L45.0,76.6 L43.1,74.4 L41.4,73.1 L40.0,71.0 L41.4,69.3 L40.5,67.5 L41.6,65.7 L41.6,63.9 L40.9,62.1 L41.1,60.4 L39.3,59.7 L37.5,59.0 L35.7,58.6 L33.9,58.2 L32.2,57.6 L30.1,56.7 L27.9,57.1 L26.5,58.1 L24.9,58.6 L23.6,60.2 L22.0,59.9 L20.7,58.5 L19.0,59.0 L17.5,58.7 L15.7,59.0 L14.4,57.9 L12.9,57.2 L11.0,57.4 L9.8,55.5 L8.2,54.5 L6.8,53.1 L7.3,51.2 L6.7,49.6 L7.7,48.0 L8.2,46.3 L6.6,45.4 L4.8,44.9 L2.7,45.6 L0.8,45.1 L-1.1,43.9" fill="none" stroke="#111" stroke-width="1.0" stroke-linejoin="round"/>
<path d="M155.5,1.0 L154.1,2.1 L152.7,3.4 L151.9,4.7 L151.7,6.4 L151.1,7.6 L152.6,9.3 L151.5,10.5 L149.9,11.5 L149.6,13.3 L148.6,14.4 L148.7,16.5 L147.2,16.9 L146.6,18.3 L145.1,18.8 L144.1,20.2 L144.1,22.2 L142.5,23.6 L140.7,23.9 L138.3,23.3 L137.5,24.5 L137.3,26.4 L135.5,26.5 L135.1,28.4 L133.5,28.3 L132.9,29.9 L132.0,30.9 L129.9,30.2 L129.6,32.1 L128.6,32.9 L126.6,32.5 L125.7,33.4 L125.4,35.2 L123.5,34.9 L123.0,36.3 L121.7,36.9 L121.2,38.4 L119.3,38.0 L118.5,39.2 L117.1,39.6 L116.2,40.5 L115.8,42.2 L114.6,43.0 L113.4,44.0 L112.0,44.7 L110.7,45.6 L109.1,45.8 L107.5,46.0 L106.3,47.3 L104.8,46.1 L103.5,46.9 L102.2,47.1 L100.6,46.3 L99.1,47.4 L97.6,48.1 L95.9,48.2 L94.3,48.4 L93.5,50.2 L91.4,49.2 L90.7,51.4 L89.0,50.5 L88.3,50.9 L85.9,50.8 L85.9,48.6 L84.6,46.7 L84.2,48.0 L84.6,50.0 L83.0,51.2" fill="none" stroke="#111" stroke-width="1.5" stroke-dasharray="2.6 0.9" />
<path d="M156.2,1.8 L155.2,3.1 L154.6,4.3 L152.6,5.1 L154.0,6.9 L152.6,8.0 L151.5,9.2 L153.0,11.1 L151.5,11.8 L150.7,12.9 L151.3,14.7 L150.0,15.6 L148.7,15.9 L148.3,17.1 L147.0,17.4 L147.1,19.1 L146.3,19.7 L145.8,20.9 L144.3,21.5 L142.8,22.1 L142.8,23.5 L141.5,23.4 L140.5,24.5 L138.9,24.1 L138.9,26.2 L137.6,26.9 L136.1,27.3 L135.1,27.8 L134.5,29.0 L134.0,30.2 L132.9,30.6 L132.0,31.3 L131.0,31.8 L129.3,31.7 L129.1,33.5 L127.1,33.1 L126.1,33.9 L126.1,36.2 L124.6,36.4 L123.4,37.0 L123.0,38.6 L121.4,38.6 L119.7,38.6 L119.9,40.7 L118.3,40.5 L118.1,42.0 L116.6,41.8 L115.2,41.9 L115.2,43.9 L114.3,44.8 L113.2,45.1 L111.8,44.7 L111.3,46.3 L110.2,46.7 L108.8,46.3 L107.6,45.9 L106.6,47.1 L105.5,47.3 L104.3,46.9 L103.3,48.2 L102.0,47.3 L101.0,48.3 L99.6,47.7 L98.3,47.2 L97.6,49.4 L96.1,48.6 L95.0,49.0 L94.3,50.3 L93.1,50.5 L91.6,49.4 L90.2,49.8 L89.4,52.1 L88.1,51.4 L87.6,50.2 L85.6,50.4 L85.3,49.0 L85.2,46.7 L84.9,48.3 L83.9,49.1 L83.6,50.3 L83.4,51.4" fill="none" stroke="#111" stroke-width="0.9" />
<path d="M155.0,0.6 L154.0,2.1 L152.1,2.9 L152.3,4.9 L151.0,6.2 L151.1,7.5 L151.3,8.9 L150.4,10.1 L150.4,11.8 L149.1,12.9 L148.8,14.8 L147.8,15.7 L146.4,16.3 L145.0,16.8 L144.9,18.5 L143.8,19.8 L142.4,20.7 L141.5,21.5 L140.0,22.4 L138.4,23.0 L136.7,23.5 L136.7,25.6 L134.8,25.7 L134.2,27.2 L133.3,28.2 L132.2,29.0 L131.0,29.5 L129.4,29.6 L129.0,31.3 L127.6,31.5 L126.5,32.3 L125.7,33.4 L124.5,34.0 L123.9,35.4 L122.8,36.2 L121.6,36.8 L120.1,36.9 L119.3,38.0 L118.4,39.0 L117.1,39.4 L116.1,40.4 L115.2,41.3 L113.8,41.5 L112.5,42.3 L111.5,43.6 L109.9,43.8 L108.6,44.5 L107.2,44.6 L105.9,45.0 L104.6,45.9 L103.2,44.9 L102.0,46.4 L100.6,46.1 L99.2,45.9 L98.2,47.1 L96.8,46.9 L95.9,47.9 L94.0,47.8 L92.6,48.4 L91.4,49.5 L89.5,49.6 L87.7,51.0 L87.1,49.4 L86.0,48.4 L85.2,47.2 L84.5,46.1 L83.3,47.6 L82.5,49.2 L82.5,51.0" fill="none" stroke="#222" stroke-width="0.9" stroke-dasharray="1.0 1.8" />
</g>
<rect x="0" y="0" width="177.0" height="105.0" fill="none" stroke="#000" stroke-width="1.15"/>
<line x1="0.00" y1="105.0" x2="0.00" y2="108.6" stroke="#000" stroke-width="0.9"/>
<text x="0.00" y="120.90" font-size="9.7" fill="#111" stroke="#111" stroke-width="0.25" text-anchor="middle" textLength="25.60" lengthAdjust="spacingAndGlyphs">106°E</text>
<line x1="44.24" y1="105.0" x2="44.24" y2="108.6" stroke="#000" stroke-width="0.9"/>
<text x="44.24" y="120.90" font-size="9.7" fill="#111" stroke="#111" stroke-width="0.25" text-anchor="middle" textLength="25.60" lengthAdjust="spacingAndGlyphs">110°E</text>
<line x1="88.48" y1="105.0" x2="88.48" y2="108.6" stroke="#000" stroke-width="0.9"/>
<text x="88.48" y="120.90" font-size="9.7" fill="#111" stroke="#111" stroke-width="0.25" text-anchor="middle" textLength="25.60" lengthAdjust="spacingAndGlyphs">114°E</text>
<line x1="132.72" y1="105.0" x2="132.72" y2="108.6" stroke="#000" stroke-width="0.9"/>
<text x="132.72" y="120.90" font-size="9.7" fill="#111" stroke="#111" stroke-width="0.25" text-anchor="middle" textLength="25.60" lengthAdjust="spacingAndGlyphs">118°E</text>
<line x1="176.96" y1="105.0" x2="176.96" y2="108.6" stroke="#000" stroke-width="0.9"/>
<text x="176.96" y="120.90" font-size="9.7" fill="#111" stroke="#111" stroke-width="0.25" text-anchor="middle" textLength="25.60" lengthAdjust="spacingAndGlyphs">122°E</text>
<line x1="-3.8" y1="105.00" x2="0" y2="105.00" stroke="#000" stroke-width="0.9"/>
<text x="-9.50" y="108.40" font-size="9.7" fill="#111" stroke="#111" stroke-width="0.25" text-anchor="end" textLength="29.00" lengthAdjust="spacingAndGlyphs">17.5°N</text>
<line x1="-3.8" y1="77.25" x2="0" y2="77.25" stroke="#000" stroke-width="0.9"/>
<text x="-9.50" y="80.65" font-size="9.7" fill="#111" stroke="#111" stroke-width="0.25" text-anchor="end" textLength="21.50" lengthAdjust="spacingAndGlyphs">20°N</text>
<line x1="-3.8" y1="49.50" x2="0" y2="49.50" stroke="#000" stroke-width="0.9"/>
<text x="-9.50" y="52.90" font-size="9.7" fill="#111" stroke="#111" stroke-width="0.25" text-anchor="end" textLength="29.00" lengthAdjust="spacingAndGlyphs">22.5°N</text>
<line x1="-3.8" y1="21.75" x2="0" y2="21.75" stroke="#000" stroke-width="0.9"/>
<text x="-9.50" y="25.15" font-size="9.7" fill="#111" stroke="#111" stroke-width="0.25" text-anchor="end" textLength="21.50" lengthAdjust="spacingAndGlyphs">25°N</text>
</g>
<g transform="translate(264.5,425.6)">
<g clip-path="url(#frameclip)">
<g clip-path="url(#landclip)">
<g transform="translate(-264.5,-425.6)">
<path d="M255.0,420.0 L450.0,420.0 L450.0,540.0 L255.0,540.0 Z" fill="#fd7f37" stroke="#fd7f37" stroke-width="1.2" stroke-linejoin="round"/>
<path d="M264.0,424.0 L279.8,424.0 L280.5,431.0 L274.5,437.1 L264.0,439.0 Z M264.0,459.0 L271.0,460.8 L272.8,466.0 L269.3,470.4 L264.0,469.5 Z M306.0,431.0 L316.6,429.3 L321.8,434.5 L318.3,440.6 L309.5,440.6 Z M346.8,431.0 L353.8,431.0 L354.7,443.3 L348.5,443.3 Z M383.6,436.3 L397.6,434.5 L404.6,438.0 L402.8,445.0 L390.6,446.8 L383.6,443.3 Z M406.3,425.5 L413.3,425.5 L414.2,430.1 L408.1,431.0 Z" fill="#fd9741" stroke="#fd9741" stroke-width="1.2" stroke-linejoin="round"/>
<path d="M274.5,476.6 L279.8,467.8 L286.8,464.3 L297.3,460.8 L299.0,452.0 L306.0,452.0 L307.8,459.0 L316.6,464.3 L323.6,466.0 L327.1,462.5 L334.5,455.5 L345.0,456.4 L359.0,459.0 L369.5,458.2 L381.8,460.8 L386.0,464.5 L378.0,471.0 L360.0,475.5 L342.0,479.0 L324.0,483.0 L315.0,490.0 L305.0,486.0 L290.0,484.0 L280.0,482.0 Z M324.0,424.0 L378.0,424.0 L378.0,438.0 L372.0,442.0 L362.0,441.0 L356.0,436.0 L352.0,431.0 L346.0,436.0 L336.0,438.5 L327.0,436.0 L324.0,431.0 Z M300.0,505.0 L306.0,502.0 L314.0,501.0 L318.0,503.0 L314.0,508.0 L306.0,509.0 Z" fill="#fb6331" stroke="#fb6331" stroke-width="1.2" stroke-linejoin="round"/>
<path d="M311.3,469.5 L320.0,467.8 L324.4,471.3 L321.8,476.6 L314.8,476.6 Z" fill="#fd7f37" stroke="#fd7f37" stroke-width="1.2" stroke-linejoin="round"/>
<path d="M346.5,431.0 L353.5,430.0 L355.0,437.0 L353.8,443.3 L348.5,443.3 Z" fill="#fd9741" stroke="#fd9741" stroke-width="1.2" stroke-linejoin="round"/>
</g>
</g>
<g fill="none" stroke="#111" stroke-width="0.72" stroke-linejoin="round">
<path d="M29.2,84.5 L35.0,79.7 L40.6,78.0 L46.5,77.1 L51.7,76.5 L55.2,78.1 L55.8,81.3 L52.8,85.1 L49.3,89.0 L45.5,93.0 L40.6,96.0 L37.7,96.5 L33.3,95.3 L29.8,93.6 L29.1,89.2 Z"/>
<path d="M0.7,23.6 L1.8,23.3 L3.2,23.3 L3.9,22.1 L4.9,21.6 L6.1,21.2 L6.5,20.0 L7.6,19.8 L8.6,19.3 L9.6,18.9 L9.6,17.2 L10.7,16.9 L11.2,15.9 L12.1,16.2 L13.1,16.7 L14.6,16.5 L14.3,18.4 L15.2,19.1 L16.5,19.4 L17.8,19.5 L19.2,19.0 L20.0,19.0 L21.5,19.3 L22.2,18.0 L23.3,17.7 L24.4,17.2 L25.3,16.3 L26.7,16.5 L27.7,16.0 L29.1,16.1 L29.9,15.1 L31.0,14.7 L31.8,14.1 L32.9,14.0 L33.6,13.2 L34.4,12.5 L36.0,13.2 L36.9,12.6 L37.7,11.7 L38.1,11.0 L39.3,10.5 L40.4,10.5 L41.2,10.9 L42.1,10.0 L43.6,10.7 L44.3,9.6 L45.3,9.9 L46.7,9.3 L47.9,10.5 L49.6,10.4 L49.8,8.5 L51.0,8.2 L52.7,8.6 L53.3,7.2 L54.6,7.9 L55.5,6.7 L56.6,6.6" stroke-width="0.8"/>
<path d="M38.2,10.6 L38.0,9.4 L37.5,8.3 L36.2,7.2 L36.1,6.1 L36.9,5.3 L36.9,4.2 L38.0,3.4 L38.1,2.1 L38.1,0.8 L38.2,-0.5" stroke-width="0.8"/>
<path d="M57.0,6.4 L56.7,7.8 L57.2,8.9 L57.4,10.3 L59.0,10.4 L59.6,11.3 L60.3,12.8 L59.6,13.8 L58.1,14.3 L58.4,15.9 L57.1,16.5 L57.2,17.7 L56.5,18.6 L55.8,19.5 L54.7,20.8 L55.7,21.4 L57.2,21.7 L57.4,22.8 L58.4,23.2 L58.5,24.9 L59.9,25.6 L60.9,25.4 L61.9,25.3 L62.9,25.0 L63.4,25.1 L64.5,25.5 L66.2,25.6 L65.4,27.1 L66.2,28.3 L66.0,29.4 L65.8,30.5 L65.5,31.7 L65.1,32.7 L64.5,33.7 L63.8,34.6 L63.3,35.7 L61.6,35.6 L60.7,36.6 L60.0,37.7 L60.2,39.0 L60.1,40.2 L59.4,41.2 L60.0,42.7 L58.6,43.5 L58.6,44.8 L57.9,45.9 L56.9,46.5 L55.6,46.7 L54.9,47.7 L53.8,48.3 L52.7,49.0 L52.1,50.1 L51.6,51.3 L50.4,51.7 L49.9,52.8 L49.1,53.5 L48.6,54.5 L47.8,55.3 L47.7,56.5 L46.3,56.8 L45.1,57.3 L45.0,58.8 L44.0,59.5" stroke-width="0.8"/>
<path d="M65.3,25.2 L66.8,25.2 L67.5,24.4 L68.7,24.0 L68.6,22.3 L69.3,21.6 L70.5,21.5 L71.6,21.0 L72.6,20.1 L73.9,20.4 L75.1,19.8 L74.8,21.2 L75.0,22.1 L75.7,21.2 L77.3,20.9 L76.9,19.5 L77.3,18.5 L78.5,18.2 L79.2,17.3 L79.6,16.0 L80.9,15.9 L81.9,16.2 L83.1,15.5 L84.0,16.5 L85.2,15.7 L86.0,16.2 L87.1,15.2 L89.0,14.8 L89.0,16.6 L90.5,16.5 L90.6,17.8 L92.1,18.3 L92.6,19.5 L92.9,20.0 L92.6,21.3 L92.8,22.8 L91.5,23.7 L92.6,24.0 L94.0,23.5 L94.9,23.6 L96.1,24.9 L97.2,24.2 L98.3,23.5 L99.4,23.9 L100.4,23.4 L101.7,24.2 L102.7,23.5 L103.7,22.5 L105.0,23.6 L106.1,22.1 L107.2,22.6 L108.4,23.1" stroke-width="0.8"/>
<path d="M108.3,23.9 L109.6,22.3 L110.5,23.8 L111.6,22.8 L112.5,24.4 L114.0,22.9 L114.5,24.7 L115.6,24.7 L116.4,25.3 L117.3,25.9 L118.8,24.9 L119.9,25.6 L119.8,26.8 L121.0,27.5 L121.5,28.4 L122.1,29.5 L121.1,30.7 L121.3,31.8 L121.6,32.8 L122.8,33.7 L122.5,34.8" stroke-width="0.8"/>
<path d="M108.2,23.0 L108.9,22.2 L109.3,21.2 L109.9,20.4 L110.4,19.4 L111.3,18.8 L111.3,17.5 L112.5,16.9 L112.2,15.4 L113.2,14.9 L113.6,13.9 L113.7,12.8 L115.1,12.2 L114.8,10.9 L116.0,10.2 L116.6,9.3 L115.8,7.9 L117.2,7.2 L117.4,6.2 L117.5,5.1 L116.7,4.0 L117.5,2.9 L117.8,1.8 L117.2,0.6 L117.6,-0.5" stroke-width="0.8"/>
<path d="M88.7,15.2 L88.8,14.0 L88.7,12.8 L87.2,12.1 L87.6,10.8 L87.2,9.9 L87.2,8.9 L86.3,7.7 L86.3,6.7 L87.1,5.7 L87.8,4.8 L87.3,3.5 L88.0,2.6 L88.0,1.5 L89.3,0.7 L89.0,-0.5" stroke-width="0.8"/>
<path d="M172.5,18.3 L176.8,21.0 L176.5,26.0 L174.7,33.3 L172.5,40.0 L170.3,46.0 L167.0,52.0 L164.0,55.0 L161.5,50.0 L157.5,43.0 L156.4,37.5 L158.4,32.3 L162.3,25.7 L167.5,20.4 Z"/>
<path d="M137.5,26.4 L138.5,27.2 L139.7,27.4 L140.9,27.6 L142.2,27.7 L143.2,28.5 L144.4,28.8 L145.6,28.8 L146.8,29.1 L147.3,30.8 L147.8,32.8 L146.6,34.1 L145.6,35.4 L144.6,36.4 L143.2,36.4 L142.2,37.5 L141.1,38.0 L140.1,38.6 L138.8,39.2 L138.3,40.4 L137.5,41.4 L137.1,42.5 L136.9,43.8 L136.0,44.7 L135.2,45.7 L134.8,46.9 L133.6,47.5 L133.2,48.8 L132.5,49.8 L131.3,50.4 L131.0,51.7 L129.5,52.5 L130.2,53.8 L130.4,55.3 L129.2,55.7 L127.9,55.8 L126.7,56.4 L125.5,56.8 L124.1,56.3 L123.0,57.1 L121.7,57.1 L120.7,58.1 L119.4,57.9 L118.2,58.5 L117.2,59.0 L116.0,59.5 L115.0,60.1 L113.7,59.9 L112.3,60.3 L111.0,59.9 L109.7,59.4 L108.3,59.9 L107.2,58.7 L105.9,58.3 L104.5,58.2 L103.3,57.7 L102.2,58.5 L101.3,59.3 L99.9,59.7 L99.3,61.0 L98.9,62.3 L98.2,63.4 L97.1,64.3 L96.2,65.3 L96.0,66.7 L95.3,67.8 L94.6,68.9 L93.8,70.0 L93.4,71.4 L92.3,72.4 L91.6,73.6 L90.7,74.8 L90.3,75.9 L90.9,77.5 L91.3,79.2 L92.6,79.8 L94.0,79.4 L95.3,79.7 L96.6,79.6 L97.9,79.5 L99.3,79.7 L100.5,80.5 L101.8,80.6 L103.2,80.3 L104.5,80.8 L105.8,81.0 L107.1,81.5 L108.4,81.8 L109.8,81.6 L111.4,82.3 L112.4,81.5 L113.2,80.5 L114.4,80.0 L115.3,78.9 L116.3,78.1 L117.6,78.1 L118.9,78.7 L120.3,78.1 L121.6,78.1 L122.7,78.8 L123.8,79.6 L125.1,80.1 L126.0,81.1 L127.5,81.3 L128.4,82.3 L129.5,83.0 L130.8,83.8 L132.2,84.2 L133.5,84.8 L134.8,85.7 L135.1,87.0 L135.7,88.1 L136.5,89.1 L137.4,90.0 L138.2,91.3 L136.7,91.8 L136.0,93.1 L134.7,92.7 L133.3,93.1 L132.0,92.8 L130.8,92.1 L129.5,91.9 L128.2,91.6 L126.8,91.7 L125.5,92.1 L124.2,92.1 L122.8,92.0 L121.6,92.7 L120.2,92.7 L118.9,93.1 L117.6,92.9 L116.4,93.8 L114.9,93.4 L113.6,93.3 L112.4,94.4 L111.0,94.1 L109.7,94.3 L108.4,94.5 L107.4,95.2 L106.3,95.8 L105.1,96.1 L103.8,96.1 L102.7,96.5 L101.8,97.6 L100.8,97.9 L100.2,98.9 L99.6,100.0 L98.6,100.9 L98.2,102.1 L97.0,102.9 L96.8,104.5 L96.5,106.0"/>
<path d="M152.7,26.3 L153.9,26.9 L155.0,27.6 L156.1,28.3 L157.4,28.4 L158.3,28.8 L159.6,28.2 L160.9,27.9 L162.0,27.0"/>
<path d="M144.9,20.7 L146.2,20.5 L147.5,20.3 L148.8,20.6 L150.0,20.0 L151.4,19.9 L152.7,19.2 L154.2,19.3 L155.6,19.3 L157.0,18.8 L158.3,19.1 L159.7,19.0 L161.0,18.6 L162.3,18.3 L163.7,18.8 L165.0,18.3 L166.3,18.2 L167.6,18.8 L168.9,18.8 L170.2,18.8 L171.5,18.9 L172.8,18.5"/>
<path d="M155.0,87.8 L154.3,88.9 L153.5,90.0 L153.2,91.4 L152.3,92.4 L151.5,93.5 L150.8,94.6 L150.7,96.1 L149.7,97.1 L149.2,98.3"/>
<path d="M175.4,58.3 L174.5,59.3 L173.6,60.2 L172.7,61.2 L172.0,62.2 L171.5,63.5 L170.3,64.2 L169.8,65.5 L169.1,66.6 L168.2,67.5"/>
<path d="M178.0,78.0 L176.7,78.2 L175.5,78.6 L174.3,78.9 L173.3,79.8 L171.8,79.7 L171.0,80.7 L169.9,81.3 L169.0,82.1 L167.9,82.7 L167.3,83.9 L166.3,84.4 L167.0,85.5 L167.9,86.3 L168.7,87.3 L169.8,88.0 L170.4,89.2 L171.4,89.4 L172.8,89.7 L174.1,89.2 L175.3,88.6 L176.7,88.9 L178.0,88.5"/>
<path d="M162.3,93.6 L163.6,93.9 L164.9,93.8 L166.2,93.6 L167.5,93.3 L168.8,93.5 L170.2,92.9 L171.5,93.6 L172.8,93.4 L174.0,93.8 L175.0,94.6 L175.8,95.5 L176.7,96.4 L175.9,97.4 L174.9,98.3 L174.1,99.3 L173.7,100.6 L172.7,101.4 L171.4,101.7 L170.2,102.5 L168.9,103.1 L167.5,103.2 L166.2,103.4 L164.8,103.6 L163.3,103.9 L161.9,103.4 L160.4,103.7 L159.3,103.5 L158.4,102.0 L158.5,100.3 L159.2,98.9 L160.5,97.9 L160.7,96.3 L161.9,95.2 L162.3,93.7"/>
<path d="M176.6,96.5 L178.0,97.0"/>
<circle cx="120" cy="69.9" r="1.0"/>
<circle cx="171.5" cy="47.7" r="0.55" fill="#222" stroke="none"/>
<circle cx="172.1" cy="53.7" r="0.55" fill="#222" stroke="none"/>
<path d="M149.9,37.8 l0.9,-2.4 l0.9,2.4 z" fill="#111" stroke="none"/>
</g>
<path d="M158.0,-1.4 L157.1,0.3 L156.8,2.3 L155.4,3.2 L154.2,4.3 L154.2,7.0 L153.9,9.0 L152.3,10.7 L152.3,12.7 L151.5,14.3 L149.7,15.2 L149.0,17.1 L147.2,18.1 L146.3,19.8 L145.1,21.1 L144.7,23.0 L143.2,23.9 L141.3,24.0 L139.6,25.0 L137.9,26.3 L136.5,27.8 L135.7,29.6 L133.7,29.6 L132.4,30.8 L131.3,32.1 L130.2,33.4 L128.1,33.4 L127.2,34.9 L125.7,35.6 L124.2,36.3 L123.0,37.5 L121.5,38.2 L120.7,39.9 L118.9,40.4 L117.9,41.8 L116.1,42.2 L114.9,43.2 L114.0,45.1 L112.5,45.7 L111.0,46.3 L109.0,46.0 L107.9,47.5 L106.2,47.4 L104.5,48.1 L102.7,48.0 L101.0,48.3 L99.5,48.8 L97.9,48.8 L96.4,49.1 L94.7,49.1 L93.4,50.0 L91.8,50.1 L90.4,50.6 L88.9,50.9 L87.9,51.9 L85.9,51.0 L85.4,49.1 L83.6,47.8 L84.4,48.1 L84.1,50.1 L83.3,51.6 L82.0,53.2 L79.8,53.2 L78.3,54.5 L76.8,55.4 L75.2,56.2 L73.3,55.5 L71.6,55.7 L70.2,57.5 L68.4,56.7 L66.8,57.6 L65.3,58.3 L63.5,58.6 L61.5,58.3 L59.7,58.6 L58.4,60.5 L56.3,60.3 L54.6,61.8 L51.7,60.6 L51.2,62.2 L49.5,63.1 L49.1,64.6 L49.6,66.2 L48.6,67.8 L49.9,69.4 L50.5,71.2 L50.0,73.0 L49.6,74.9 L48.1,76.3 L45.0,76.6 L43.1,74.4 L41.4,73.1 L40.0,71.0 L41.4,69.3 L40.5,67.5 L41.6,65.7 L41.6,63.9 L40.9,62.1 L41.1,60.4 L39.3,59.7 L37.5,59.0 L35.7,58.6 L33.9,58.2 L32.2,57.6 L30.1,56.7 L27.9,57.1 L26.5,58.1 L24.9,58.6 L23.6,60.2 L22.0,59.9 L20.7,58.5 L19.0,59.0 L17.5,58.7 L15.7,59.0 L14.4,57.9 L12.9,57.2 L11.0,57.4 L9.8,55.5 L8.2,54.5 L6.8,53.1 L7.3,51.2 L6.7,49.6 L7.7,48.0 L8.2,46.3 L6.6,45.4 L4.8,44.9 L2.7,45.6 L0.8,45.1 L-1.1,43.9" fill="none" stroke="#111" stroke-width="1.0" stroke-linejoin="round"/>
<path d="M155.5,1.0 L154.1,2.1 L152.7,3.4 L151.9,4.7 L151.7,6.4 L151.1,7.6 L152.6,9.3 L151.5,10.5 L149.9,11.5 L149.6,13.3 L148.6,14.4 L148.7,16.5 L147.2,16.9 L146.6,18.3 L145.1,18.8 L144.1,20.2 L144.1,22.2 L142.5,23.6 L140.7,23.9 L138.3,23.3 L137.5,24.5 L137.3,26.4 L135.5,26.5 L135.1,28.4 L133.5,28.3 L132.9,29.9 L132.0,30.9 L129.9,30.2 L129.6,32.1 L128.6,32.9 L126.6,32.5 L125.7,33.4 L125.4,35.2 L123.5,34.9 L123.0,36.3 L121.7,36.9 L121.2,38.4 L119.3,38.0 L118.5,39.2 L117.1,39.6 L116.2,40.5 L115.8,42.2 L114.6,43.0 L113.4,44.0 L112.0,44.7 L110.7,45.6 L109.1,45.8 L107.5,46.0 L106.3,47.3 L104.8,46.1 L103.5,46.9 L102.2,47.1 L100.6,46.3 L99.1,47.4 L97.6,48.1 L95.9,48.2 L94.3,48.4 L93.5,50.2 L91.4,49.2 L90.7,51.4 L89.0,50.5 L88.3,50.9 L85.9,50.8 L85.9,48.6 L84.6,46.7 L84.2,48.0 L84.6,50.0 L83.0,51.2" fill="none" stroke="#111" stroke-width="1.5" stroke-dasharray="2.6 0.9" />
<path d="M156.2,1.8 L155.2,3.1 L154.6,4.3 L152.6,5.1 L154.0,6.9 L152.6,8.0 L151.5,9.2 L153.0,11.1 L151.5,11.8 L150.7,12.9 L151.3,14.7 L150.0,15.6 L148.7,15.9 L148.3,17.1 L147.0,17.4 L147.1,19.1 L146.3,19.7 L145.8,20.9 L144.3,21.5 L142.8,22.1 L142.8,23.5 L141.5,23.4 L140.5,24.5 L138.9,24.1 L138.9,26.2 L137.6,26.9 L136.1,27.3 L135.1,27.8 L134.5,29.0 L134.0,30.2 L132.9,30.6 L132.0,31.3 L131.0,31.8 L129.3,31.7 L129.1,33.5 L127.1,33.1 L126.1,33.9 L126.1,36.2 L124.6,36.4 L123.4,37.0 L123.0,38.6 L121.4,38.6 L119.7,38.6 L119.9,40.7 L118.3,40.5 L118.1,42.0 L116.6,41.8 L115.2,41.9 L115.2,43.9 L114.3,44.8 L113.2,45.1 L111.8,44.7 L111.3,46.3 L110.2,46.7 L108.8,46.3 L107.6,45.9 L106.6,47.1 L105.5,47.3 L104.3,46.9 L103.3,48.2 L102.0,47.3 L101.0,48.3 L99.6,47.7 L98.3,47.2 L97.6,49.4 L96.1,48.6 L95.0,49.0 L94.3,50.3 L93.1,50.5 L91.6,49.4 L90.2,49.8 L89.4,52.1 L88.1,51.4 L87.6,50.2 L85.6,50.4 L85.3,49.0 L85.2,46.7 L84.9,48.3 L83.9,49.1 L83.6,50.3 L83.4,51.4" fill="none" stroke="#111" stroke-width="0.9" />
<path d="M155.0,0.6 L154.0,2.1 L152.1,2.9 L152.3,4.9 L151.0,6.2 L151.1,7.5 L151.3,8.9 L150.4,10.1 L150.4,11.8 L149.1,12.9 L148.8,14.8 L147.8,15.7 L146.4,16.3 L145.0,16.8 L144.9,18.5 L143.8,19.8 L142.4,20.7 L141.5,21.5 L140.0,22.4 L138.4,23.0 L136.7,23.5 L136.7,25.6 L134.8,25.7 L134.2,27.2 L133.3,28.2 L132.2,29.0 L131.0,29.5 L129.4,29.6 L129.0,31.3 L127.6,31.5 L126.5,32.3 L125.7,33.4 L124.5,34.0 L123.9,35.4 L122.8,36.2 L121.6,36.8 L120.1,36.9 L119.3,38.0 L118.4,39.0 L117.1,39.4 L116.1,40.4 L115.2,41.3 L113.8,41.5 L112.5,42.3 L111.5,43.6 L109.9,43.8 L108.6,44.5 L107.2,44.6 L105.9,45.0 L104.6,45.9 L103.2,44.9 L102.0,46.4 L100.6,46.1 L99.2,45.9 L98.2,47.1 L96.8,46.9 L95.9,47.9 L94.0,47.8 L92.6,48.4 L91.4,49.5 L89.5,49.6 L87.7,51.0 L87.1,49.4 L86.0,48.4 L85.2,47.2 L84.5,46.1 L83.3,47.6 L82.5,49.2 L82.5,51.0" fill="none" stroke="#222" stroke-width="0.9" stroke-dasharray="1.0 1.8" />
<g fill="none" stroke="#111" stroke-width="0.9" stroke-linejoin="round">
<path d="M29.2,84.5 L35.0,79.7 L40.6,78.0 L46.5,77.1 L51.7,76.5 L55.2,78.1 L55.8,81.3 L52.8,85.1 L49.3,89.0 L45.5,93.0 L40.6,96.0 L37.7,96.5 L33.3,95.3 L29.8,93.6 L29.1,89.2 Z"/>
<path d="M172.5,18.3 L176.8,21.0 L176.5,26.0 L174.7,33.3 L172.5,40.0 L170.3,46.0 L167.0,52.0 L164.0,55.0 L161.5,50.0 L157.5,43.0 L156.4,37.5 L158.4,32.3 L162.3,25.7 L167.5,20.4 Z"/>
<path d="M-1.0,78.0 L7.3,69.4 L13.9,64.1 L20.4,60.6 L23.6,59.5"/>
<path d="M-1.0,93.0 L7.3,103.5 L8.5,106.0"/>
</g>
</g>
<rect x="0" y="0" width="177.0" height="105.0" fill="none" stroke="#000" stroke-width="1.15"/>
<line x1="0.00" y1="105.0" x2="0.00" y2="108.6" stroke="#000" stroke-width="0.9"/>
<text x="0.00" y="120.90" font-size="9.7" fill="#111" stroke="#111" stroke-width="0.25" text-anchor="middle" textLength="25.60" lengthAdjust="spacingAndGlyphs">106°E</text>
<line x1="44.24" y1="105.0" x2="44.24" y2="108.6" stroke="#000" stroke-width="0.9"/>
<text x="44.24" y="120.90" font-size="9.7" fill="#111" stroke="#111" stroke-width="0.25" text-anchor="middle" textLength="25.60" lengthAdjust="spacingAndGlyphs">110°E</text>
<line x1="88.48" y1="105.0" x2="88.48" y2="108.6" stroke="#000" stroke-width="0.9"/>
<text x="88.48" y="120.90" font-size="9.7" fill="#111" stroke="#111" stroke-width="0.25" text-anchor="middle" textLength="25.60" lengthAdjust="spacingAndGlyphs">114°E</text>
<line x1="132.72" y1="105.0" x2="132.72" y2="108.6" stroke="#000" stroke-width="0.9"/>
<text x="132.72" y="120.90" font-size="9.7" fill="#111" stroke="#111" stroke-width="0.25" text-anchor="middle" textLength="25.60" lengthAdjust="spacingAndGlyphs">118°E</text>
<line x1="176.96" y1="105.0" x2="176.96" y2="108.6" stroke="#000" stroke-width="0.9"/>
<text x="176.96" y="120.90" font-size="9.7" fill="#111" stroke="#111" stroke-width="0.25" text-anchor="middle" textLength="25.60" lengthAdjust="spacingAndGlyphs">122°E</text>
<line x1="-3.8" y1="105.00" x2="0" y2="105.00" stroke="#000" stroke-width="0.9"/>
<text x="-9.50" y="108.40" font-size="9.7" fill="#111" stroke="#111" stroke-width="0.25" text-anchor="end" textLength="29.00" lengthAdjust="spacingAndGlyphs">17.5°N</text>
<line x1="-3.8" y1="77.25" x2="0" y2="77.25" stroke="#000" stroke-width="0.9"/>
<text x="-9.50" y="80.65" font-size="9.7" fill="#111" stroke="#111" stroke-width="0.25" text-anchor="end" textLength="21.50" lengthAdjust="spacingAndGlyphs">20°N</text>
<line x1="-3.8" y1="49.50" x2="0" y2="49.50" stroke="#000" stroke-width="0.9"/>
<text x="-9.50" y="52.90" font-size="9.7" fill="#111" stroke="#111" stroke-width="0.25" text-anchor="end" textLength="29.00" lengthAdjust="spacingAndGlyphs">22.5°N</text>
<line x1="-3.8" y1="21.75" x2="0" y2="21.75" stroke="#000" stroke-width="0.9"/>
<text x="-9.50" y="25.15" font-size="9.7" fill="#111" stroke="#111" stroke-width="0.25" text-anchor="end" textLength="21.50" lengthAdjust="spacingAndGlyphs">25°N</text>
</g>
<g transform="translate(489.7,425.4)">
<g clip-path="url(#frameclip)">
<g clip-path="url(#landclip)">
<g transform="translate(-489.7,-425.4)">
<path d="M480.0,420.0 L680.0,420.0 L680.0,540.0 L480.0,540.0 Z" fill="#fff5d9" stroke="#fff5d9" stroke-width="1.2" stroke-linejoin="round"/>
<path d="M506.5,443.3 L524.0,441.5 L541.6,441.5 L546.8,445.0 L548.6,452.0 L552.1,459.0 L546.8,464.3 L538.1,462.5 L531.0,466.0 L524.0,467.8 L518.8,474.8 L515.3,480.1 L508.3,481.8 L497.8,480.1 L494.3,474.8 L503.0,467.8 L510.0,464.3 L508.3,455.5 Z M546.0,425.0 L578.0,425.0 L580.0,432.0 L576.0,441.0 L565.0,444.0 L552.0,446.0 L548.0,440.0 L546.0,432.0 Z M489.0,424.0 L502.0,424.0 L503.0,430.5 L498.0,432.5 L489.0,432.0 Z" fill="#ffffff" stroke="#ffffff" stroke-width="1.2" stroke-linejoin="round"/>
<path d="M499.0,476.0 L505.0,475.0 L507.0,478.0 L502.0,479.5 Z" fill="#e6f3fb" stroke="#e6f3fb" stroke-width="1.2" stroke-linejoin="round"/>
<path d="M555.0,447.0 L570.0,444.0 L580.0,441.0 L590.0,434.0 L600.0,428.0 L608.0,425.0 L644.0,425.0 L642.0,432.0 L637.0,440.0 L628.0,447.0 L620.0,453.0 L612.0,460.0 L600.0,468.0 L585.0,474.0 L570.0,478.0 L555.0,482.0 L545.0,484.0 L540.0,478.0 L548.0,470.0 L552.0,460.0 Z M489.0,436.0 L497.0,434.0 L495.0,442.0 L489.0,444.0 Z M518.0,466.0 L530.0,466.0 L540.0,472.0 L545.0,480.0 L535.0,483.0 L522.0,481.0 Z M517.0,500.0 L546.0,500.0 L546.0,524.0 L517.0,524.0 Z" fill="#fee9b4" stroke="#fee9b4" stroke-width="1.2" stroke-linejoin="round"/>
<path d="M595.0,430.0 L605.0,426.0 L643.0,425.5 L640.0,435.0 L632.0,442.0 L620.0,441.0 L605.0,440.0 L596.0,437.0 Z M562.0,463.0 L570.0,461.0 L575.0,466.0 L574.0,474.0 L567.0,477.0 L562.0,472.0 Z M596.0,462.0 L604.0,460.0 L608.0,463.0 L604.0,468.0 L597.0,467.0 Z M532.0,483.0 L540.0,481.0 L542.0,487.0 L539.0,495.0 L535.0,497.0 L532.0,490.0 Z" fill="#fdd584" stroke="#fdd584" stroke-width="1.2" stroke-linejoin="round"/>
<path d="M533.0,504.0 L541.0,502.5 L545.0,504.0 L543.0,508.0 L537.0,509.0 Z M519.0,514.0 L525.0,515.0 L530.0,519.0 L526.0,522.0 L520.0,520.0 Z" fill="#fdd584" stroke="#fdd584" stroke-width="1.2" stroke-linejoin="round"/>
<path d="M564.5,465.0 L570.0,464.0 L572.0,469.0 L569.0,474.0 L565.0,471.0 Z M599.0,462.0 L604.0,461.0 L605.0,465.0 L600.0,466.0 Z M631.0,426.0 L640.0,426.0 L638.0,432.0 L633.0,432.0 Z" fill="#fba542" stroke="#fba542" stroke-width="1.2" stroke-linejoin="round"/>
</g>
<mask id="fmask"><rect x="-5" y="-5" width="190" height="115" fill="#fff"/>
<path d="M22.3,72.6 L62.3,72.6 L62.3,100.6 L22.3,100.6 Z M-1.7,-2.4 L13.8,-2.4 L14.3,6.1 L8.3,8.1 L-1.7,7.6 Z M16.8,17.9 L34.3,16.1 L51.9,16.1 L57.1,19.6 L58.9,26.6 L62.4,33.6 L57.1,38.9 L48.4,37.1 L41.3,40.6 L34.3,42.4 L29.1,49.4 L25.6,54.7 L18.6,56.4 L8.1,54.7 L4.6,49.4 L13.3,42.4 L20.3,38.9 L18.6,30.1 Z M56.3,-1.4 L98.3,-1.4 L96.3,3.6 L90.3,7.6 L88.3,16.6 L75.3,19.6 L62.3,21.6 L58.3,14.6 L56.3,6.6 Z" fill="#000"/></mask>
<rect x="0" y="0" width="177.0" height="105.0" fill="url(#stipf)" mask="url(#fmask)"/>
<circle cx="37.20" cy="83.50" r="1.25" fill="#000"/>
<circle cx="42.20" cy="83.50" r="1.25" fill="#000"/>
<circle cx="47.30" cy="83.50" r="1.25" fill="#000"/>
<circle cx="34.60" cy="88.60" r="1.25" fill="#000"/>
<circle cx="39.60" cy="88.60" r="1.25" fill="#000"/>
<circle cx="44.80" cy="88.60" r="1.25" fill="#000"/>
<circle cx="37.20" cy="93.50" r="1.25" fill="#000"/>
<circle cx="12.2" cy="53.0" r="1.25" fill="#000"/><circle cx="17.2" cy="53.0" r="1.25" fill="#000"/>
</g>
<g fill="none" stroke="#111" stroke-width="0.72" stroke-linejoin="round">
<path d="M29.2,84.5 L35.0,79.7 L40.6,78.0 L46.5,77.1 L51.7,76.5 L55.2,78.1 L55.8,81.3 L52.8,85.1 L49.3,89.0 L45.5,93.0 L40.6,96.0 L37.7,96.5 L33.3,95.3 L29.8,93.6 L29.1,89.2 Z"/>
<path d="M0.7,23.6 L1.8,23.3 L3.2,23.3 L3.9,22.1 L4.9,21.6 L6.1,21.2 L6.5,20.0 L7.6,19.8 L8.6,19.3 L9.6,18.9 L9.6,17.2 L10.7,16.9 L11.2,15.9 L12.1,16.2 L13.1,16.7 L14.6,16.5 L14.3,18.4 L15.2,19.1 L16.5,19.4 L17.8,19.5 L19.2,19.0 L20.0,19.0 L21.5,19.3 L22.2,18.0 L23.3,17.7 L24.4,17.2 L25.3,16.3 L26.7,16.5 L27.7,16.0 L29.1,16.1 L29.9,15.1 L31.0,14.7 L31.8,14.1 L32.9,14.0 L33.6,13.2 L34.4,12.5 L36.0,13.2 L36.9,12.6 L37.7,11.7 L38.1,11.0 L39.3,10.5 L40.4,10.5 L41.2,10.9 L42.1,10.0 L43.6,10.7 L44.3,9.6 L45.3,9.9 L46.7,9.3 L47.9,10.5 L49.6,10.4 L49.8,8.5 L51.0,8.2 L52.7,8.6 L53.3,7.2 L54.6,7.9 L55.5,6.7 L56.6,6.6" stroke-width="0.8"/>
<path d="M38.2,10.6 L38.0,9.4 L37.5,8.3 L36.2,7.2 L36.1,6.1 L36.9,5.3 L36.9,4.2 L38.0,3.4 L38.1,2.1 L38.1,0.8 L38.2,-0.5" stroke-width="0.8"/>
<path d="M57.0,6.4 L56.7,7.8 L57.2,8.9 L57.4,10.3 L59.0,10.4 L59.6,11.3 L60.3,12.8 L59.6,13.8 L58.1,14.3 L58.4,15.9 L57.1,16.5 L57.2,17.7 L56.5,18.6 L55.8,19.5 L54.7,20.8 L55.7,21.4 L57.2,21.7 L57.4,22.8 L58.4,23.2 L58.5,24.9 L59.9,25.6 L60.9,25.4 L61.9,25.3 L62.9,25.0 L63.4,25.1 L64.5,25.5 L66.2,25.6 L65.4,27.1 L66.2,28.3 L66.0,29.4 L65.8,30.5 L65.5,31.7 L65.1,32.7 L64.5,33.7 L63.8,34.6 L63.3,35.7 L61.6,35.6 L60.7,36.6 L60.0,37.7 L60.2,39.0 L60.1,40.2 L59.4,41.2 L60.0,42.7 L58.6,43.5 L58.6,44.8 L57.9,45.9 L56.9,46.5 L55.6,46.7 L54.9,47.7 L53.8,48.3 L52.7,49.0 L52.1,50.1 L51.6,51.3 L50.4,51.7 L49.9,52.8 L49.1,53.5 L48.6,54.5 L47.8,55.3 L47.7,56.5 L46.3,56.8 L45.1,57.3 L45.0,58.8 L44.0,59.5" stroke-width="0.8"/>
<path d="M65.3,25.2 L66.8,25.2 L67.5,24.4 L68.7,24.0 L68.6,22.3 L69.3,21.6 L70.5,21.5 L71.6,21.0 L72.6,20.1 L73.9,20.4 L75.1,19.8 L74.8,21.2 L75.0,22.1 L75.7,21.2 L77.3,20.9 L76.9,19.5 L77.3,18.5 L78.5,18.2 L79.2,17.3 L79.6,16.0 L80.9,15.9 L81.9,16.2 L83.1,15.5 L84.0,16.5 L85.2,15.7 L86.0,16.2 L87.1,15.2 L89.0,14.8 L89.0,16.6 L90.5,16.5 L90.6,17.8 L92.1,18.3 L92.6,19.5 L92.9,20.0 L92.6,21.3 L92.8,22.8 L91.5,23.7 L92.6,24.0 L94.0,23.5 L94.9,23.6 L96.1,24.9 L97.2,24.2 L98.3,23.5 L99.4,23.9 L100.4,23.4 L101.7,24.2 L102.7,23.5 L103.7,22.5 L105.0,23.6 L106.1,22.1 L107.2,22.6 L108.4,23.1" stroke-width="0.8"/>
<path d="M108.3,23.9 L109.6,22.3 L110.5,23.8 L111.6,22.8 L112.5,24.4 L114.0,22.9 L114.5,24.7 L115.6,24.7 L116.4,25.3 L117.3,25.9 L118.8,24.9 L119.9,25.6 L119.8,26.8 L121.0,27.5 L121.5,28.4 L122.1,29.5 L121.1,30.7 L121.3,31.8 L121.6,32.8 L122.8,33.7 L122.5,34.8" stroke-width="0.8"/>
<path d="M108.2,23.0 L108.9,22.2 L109.3,21.2 L109.9,20.4 L110.4,19.4 L111.3,18.8 L111.3,17.5 L112.5,16.9 L112.2,15.4 L113.2,14.9 L113.6,13.9 L113.7,12.8 L115.1,12.2 L114.8,10.9 L116.0,10.2 L116.6,9.3 L115.8,7.9 L117.2,7.2 L117.4,6.2 L117.5,5.1 L116.7,4.0 L117.5,2.9 L117.8,1.8 L117.2,0.6 L117.6,-0.5" stroke-width="0.8"/>
<path d="M88.7,15.2 L88.8,14.0 L88.7,12.8 L87.2,12.1 L87.6,10.8 L87.2,9.9 L87.2,8.9 L86.3,7.7 L86.3,6.7 L87.1,5.7 L87.8,4.8 L87.3,3.5 L88.0,2.6 L88.0,1.5 L89.3,0.7 L89.0,-0.5" stroke-width="0.8"/>
<path d="M172.5,18.3 L176.8,21.0 L176.5,26.0 L174.7,33.3 L172.5,40.0 L170.3,46.0 L167.0,52.0 L164.0,55.0 L161.5,50.0 L157.5,43.0 L156.4,37.5 L158.4,32.3 L162.3,25.7 L167.5,20.4 Z"/>
<path d="M137.5,26.4 L138.5,27.2 L139.7,27.4 L140.9,27.6 L142.2,27.7 L143.2,28.5 L144.4,28.8 L145.6,28.8 L146.8,29.1 L147.3,30.8 L147.8,32.8 L146.6,34.1 L145.6,35.4 L144.6,36.4 L143.2,36.4 L142.2,37.5 L141.1,38.0 L140.1,38.6 L138.8,39.2 L138.3,40.4 L137.5,41.4 L137.1,42.5 L136.9,43.8 L136.0,44.7 L135.2,45.7 L134.8,46.9 L133.6,47.5 L133.2,48.8 L132.5,49.8 L131.3,50.4 L131.0,51.7 L129.5,52.5 L130.2,53.8 L130.4,55.3 L129.2,55.7 L127.9,55.8 L126.7,56.4 L125.5,56.8 L124.1,56.3 L123.0,57.1 L121.7,57.1 L120.7,58.1 L119.4,57.9 L118.2,58.5 L117.2,59.0 L116.0,59.5 L115.0,60.1 L113.7,59.9 L112.3,60.3 L111.0,59.9 L109.7,59.4 L108.3,59.9 L107.2,58.7 L105.9,58.3 L104.5,58.2 L103.3,57.7 L102.2,58.5 L101.3,59.3 L99.9,59.7 L99.3,61.0 L98.9,62.3 L98.2,63.4 L97.1,64.3 L96.2,65.3 L96.0,66.7 L95.3,67.8 L94.6,68.9 L93.8,70.0 L93.4,71.4 L92.3,72.4 L91.6,73.6 L90.7,74.8 L90.3,75.9 L90.9,77.5 L91.3,79.2 L92.6,79.8 L94.0,79.4 L95.3,79.7 L96.6,79.6 L97.9,79.5 L99.3,79.7 L100.5,80.5 L101.8,80.6 L103.2,80.3 L104.5,80.8 L105.8,81.0 L107.1,81.5 L108.4,81.8 L109.8,81.6 L111.4,82.3 L112.4,81.5 L113.2,80.5 L114.4,80.0 L115.3,78.9 L116.3,78.1 L117.6,78.1 L118.9,78.7 L120.3,78.1 L121.6,78.1 L122.7,78.8 L123.8,79.6 L125.1,80.1 L126.0,81.1 L127.5,81.3 L128.4,82.3 L129.5,83.0 L130.8,83.8 L132.2,84.2 L133.5,84.8 L134.8,85.7 L135.1,87.0 L135.7,88.1 L136.5,89.1 L137.4,90.0 L138.2,91.3 L136.7,91.8 L136.0,93.1 L134.7,92.7 L133.3,93.1 L132.0,92.8 L130.8,92.1 L129.5,91.9 L128.2,91.6 L126.8,91.7 L125.5,92.1 L124.2,92.1 L122.8,92.0 L121.6,92.7 L120.2,92.7 L118.9,93.1 L117.6,92.9 L116.4,93.8 L114.9,93.4 L113.6,93.3 L112.4,94.4 L111.0,94.1 L109.7,94.3 L108.4,94.5 L107.4,95.2 L106.3,95.8 L105.1,96.1 L103.8,96.1 L102.7,96.5 L101.8,97.6 L100.8,97.9 L100.2,98.9 L99.6,100.0 L98.6,100.9 L98.2,102.1 L97.0,102.9 L96.8,104.5 L96.5,106.0"/>
<path d="M152.7,26.3 L153.9,26.9 L155.0,27.6 L156.1,28.3 L157.4,28.4 L158.3,28.8 L159.6,28.2 L160.9,27.9 L162.0,27.0"/>
<path d="M144.9,20.7 L146.2,20.5 L147.5,20.3 L148.8,20.6 L150.0,20.0 L151.4,19.9 L152.7,19.2 L154.2,19.3 L155.6,19.3 L157.0,18.8 L158.3,19.1 L159.7,19.0 L161.0,18.6 L162.3,18.3 L163.7,18.8 L165.0,18.3 L166.3,18.2 L167.6,18.8 L168.9,18.8 L170.2,18.8 L171.5,18.9 L172.8,18.5"/>
<path d="M155.0,87.8 L154.3,88.9 L153.5,90.0 L153.2,91.4 L152.3,92.4 L151.5,93.5 L150.8,94.6 L150.7,96.1 L149.7,97.1 L149.2,98.3"/>
<path d="M175.4,58.3 L174.5,59.3 L173.6,60.2 L172.7,61.2 L172.0,62.2 L171.5,63.5 L170.3,64.2 L169.8,65.5 L169.1,66.6 L168.2,67.5"/>
<path d="M178.0,78.0 L176.7,78.2 L175.5,78.6 L174.3,78.9 L173.3,79.8 L171.8,79.7 L171.0,80.7 L169.9,81.3 L169.0,82.1 L167.9,82.7 L167.3,83.9 L166.3,84.4 L167.0,85.5 L167.9,86.3 L168.7,87.3 L169.8,88.0 L170.4,89.2 L171.4,89.4 L172.8,89.7 L174.1,89.2 L175.3,88.6 L176.7,88.9 L178.0,88.5"/>
<path d="M162.3,93.6 L163.6,93.9 L164.9,93.8 L166.2,93.6 L167.5,93.3 L168.8,93.5 L170.2,92.9 L171.5,93.6 L172.8,93.4 L174.0,93.8 L175.0,94.6 L175.8,95.5 L176.7,96.4 L175.9,97.4 L174.9,98.3 L174.1,99.3 L173.7,100.6 L172.7,101.4 L171.4,101.7 L170.2,102.5 L168.9,103.1 L167.5,103.2 L166.2,103.4 L164.8,103.6 L163.3,103.9 L161.9,103.4 L160.4,103.7 L159.3,103.5 L158.4,102.0 L158.5,100.3 L159.2,98.9 L160.5,97.9 L160.7,96.3 L161.9,95.2 L162.3,93.7"/>
<path d="M176.6,96.5 L178.0,97.0"/>
<circle cx="120" cy="69.9" r="1.0"/>
<circle cx="171.5" cy="47.7" r="0.55" fill="#222" stroke="none"/>
<circle cx="172.1" cy="53.7" r="0.55" fill="#222" stroke="none"/>
<path d="M149.9,37.8 l0.9,-2.4 l0.9,2.4 z" fill="#111" stroke="none"/>
</g>
<path d="M158.0,-1.4 L157.1,0.3 L156.8,2.3 L155.4,3.2 L154.2,4.3 L154.2,7.0 L153.9,9.0 L152.3,10.7 L152.3,12.7 L151.5,14.3 L149.7,15.2 L149.0,17.1 L147.2,18.1 L146.3,19.8 L145.1,21.1 L144.7,23.0 L143.2,23.9 L141.3,24.0 L139.6,25.0 L137.9,26.3 L136.5,27.8 L135.7,29.6 L133.7,29.6 L132.4,30.8 L131.3,32.1 L130.2,33.4 L128.1,33.4 L127.2,34.9 L125.7,35.6 L124.2,36.3 L123.0,37.5 L121.5,38.2 L120.7,39.9 L118.9,40.4 L117.9,41.8 L116.1,42.2 L114.9,43.2 L114.0,45.1 L112.5,45.7 L111.0,46.3 L109.0,46.0 L107.9,47.5 L106.2,47.4 L104.5,48.1 L102.7,48.0 L101.0,48.3 L99.5,48.8 L97.9,48.8 L96.4,49.1 L94.7,49.1 L93.4,50.0 L91.8,50.1 L90.4,50.6 L88.9,50.9 L87.9,51.9 L85.9,51.0 L85.4,49.1 L83.6,47.8 L84.4,48.1 L84.1,50.1 L83.3,51.6 L82.0,53.2 L79.8,53.2 L78.3,54.5 L76.8,55.4 L75.2,56.2 L73.3,55.5 L71.6,55.7 L70.2,57.5 L68.4,56.7 L66.8,57.6 L65.3,58.3 L63.5,58.6 L61.5,58.3 L59.7,58.6 L58.4,60.5 L56.3,60.3 L54.6,61.8 L51.7,60.6 L51.2,62.2 L49.5,63.1 L49.1,64.6 L49.6,66.2 L48.6,67.8 L49.9,69.4 L50.5,71.2 L50.0,73.0 L49.6,74.9 L48.1,76.3 L45.0,76.6 L43.1,74.4 L41.4,73.1 L40.0,71.0 L41.4,69.3 L40.5,67.5 L41.6,65.7 L41.6,63.9 L40.9,62.1 L41.1,60.4 L39.3,59.7 L37.5,59.0 L35.7,58.6 L33.9,58.2 L32.2,57.6 L30.1,56.7 L27.9,57.1 L26.5,58.1 L24.9,58.6 L23.6,60.2 L22.0,59.9 L20.7,58.5 L19.0,59.0 L17.5,58.7 L15.7,59.0 L14.4,57.9 L12.9,57.2 L11.0,57.4 L9.8,55.5 L8.2,54.5 L6.8,53.1 L7.3,51.2 L6.7,49.6 L7.7,48.0 L8.2,46.3 L6.6,45.4 L4.8,44.9 L2.7,45.6 L0.8,45.1 L-1.1,43.9" fill="none" stroke="#111" stroke-width="1.0" stroke-linejoin="round"/>
<path d="M155.5,1.0 L154.1,2.1 L152.7,3.4 L151.9,4.7 L151.7,6.4 L151.1,7.6 L152.6,9.3 L151.5,10.5 L149.9,11.5 L149.6,13.3 L148.6,14.4 L148.7,16.5 L147.2,16.9 L146.6,18.3 L145.1,18.8 L144.1,20.2 L144.1,22.2 L142.5,23.6 L140.7,23.9 L138.3,23.3 L137.5,24.5 L137.3,26.4 L135.5,26.5 L135.1,28.4 L133.5,28.3 L132.9,29.9 L132.0,30.9 L129.9,30.2 L129.6,32.1 L128.6,32.9 L126.6,32.5 L125.7,33.4 L125.4,35.2 L123.5,34.9 L123.0,36.3 L121.7,36.9 L121.2,38.4 L119.3,38.0 L118.5,39.2 L117.1,39.6 L116.2,40.5 L115.8,42.2 L114.6,43.0 L113.4,44.0 L112.0,44.7 L110.7,45.6 L109.1,45.8 L107.5,46.0 L106.3,47.3 L104.8,46.1 L103.5,46.9 L102.2,47.1 L100.6,46.3 L99.1,47.4 L97.6,48.1 L95.9,48.2 L94.3,48.4 L93.5,50.2 L91.4,49.2 L90.7,51.4 L89.0,50.5 L88.3,50.9 L85.9,50.8 L85.9,48.6 L84.6,46.7 L84.2,48.0 L84.6,50.0 L83.0,51.2" fill="none" stroke="#111" stroke-width="1.5" stroke-dasharray="2.6 0.9" />
<path d="M156.2,1.8 L155.2,3.1 L154.6,4.3 L152.6,5.1 L154.0,6.9 L152.6,8.0 L151.5,9.2 L153.0,11.1 L151.5,11.8 L150.7,12.9 L151.3,14.7 L150.0,15.6 L148.7,15.9 L148.3,17.1 L147.0,17.4 L147.1,19.1 L146.3,19.7 L145.8,20.9 L144.3,21.5 L142.8,22.1 L142.8,23.5 L141.5,23.4 L140.5,24.5 L138.9,24.1 L138.9,26.2 L137.6,26.9 L136.1,27.3 L135.1,27.8 L134.5,29.0 L134.0,30.2 L132.9,30.6 L132.0,31.3 L131.0,31.8 L129.3,31.7 L129.1,33.5 L127.1,33.1 L126.1,33.9 L126.1,36.2 L124.6,36.4 L123.4,37.0 L123.0,38.6 L121.4,38.6 L119.7,38.6 L119.9,40.7 L118.3,40.5 L118.1,42.0 L116.6,41.8 L115.2,41.9 L115.2,43.9 L114.3,44.8 L113.2,45.1 L111.8,44.7 L111.3,46.3 L110.2,46.7 L108.8,46.3 L107.6,45.9 L106.6,47.1 L105.5,47.3 L104.3,46.9 L103.3,48.2 L102.0,47.3 L101.0,48.3 L99.6,47.7 L98.3,47.2 L97.6,49.4 L96.1,48.6 L95.0,49.0 L94.3,50.3 L93.1,50.5 L91.6,49.4 L90.2,49.8 L89.4,52.1 L88.1,51.4 L87.6,50.2 L85.6,50.4 L85.3,49.0 L85.2,46.7 L84.9,48.3 L83.9,49.1 L83.6,50.3 L83.4,51.4" fill="none" stroke="#111" stroke-width="0.9" />
<path d="M155.0,0.6 L154.0,2.1 L152.1,2.9 L152.3,4.9 L151.0,6.2 L151.1,7.5 L151.3,8.9 L150.4,10.1 L150.4,11.8 L149.1,12.9 L148.8,14.8 L147.8,15.7 L146.4,16.3 L145.0,16.8 L144.9,18.5 L143.8,19.8 L142.4,20.7 L141.5,21.5 L140.0,22.4 L138.4,23.0 L136.7,23.5 L136.7,25.6 L134.8,25.7 L134.2,27.2 L133.3,28.2 L132.2,29.0 L131.0,29.5 L129.4,29.6 L129.0,31.3 L127.6,31.5 L126.5,32.3 L125.7,33.4 L124.5,34.0 L123.9,35.4 L122.8,36.2 L121.6,36.8 L120.1,36.9 L119.3,38.0 L118.4,39.0 L117.1,39.4 L116.1,40.4 L115.2,41.3 L113.8,41.5 L112.5,42.3 L111.5,43.6 L109.9,43.8 L108.6,44.5 L107.2,44.6 L105.9,45.0 L104.6,45.9 L103.2,44.9 L102.0,46.4 L100.6,46.1 L99.2,45.9 L98.2,47.1 L96.8,46.9 L95.9,47.9 L94.0,47.8 L92.6,48.4 L91.4,49.5 L89.5,49.6 L87.7,51.0 L87.1,49.4 L86.0,48.4 L85.2,47.2 L84.5,46.1 L83.3,47.6 L82.5,49.2 L82.5,51.0" fill="none" stroke="#222" stroke-width="0.9" stroke-dasharray="1.0 1.8" />
<g fill="none" stroke="#111" stroke-width="0.9" stroke-linejoin="round">
<path d="M29.2,84.5 L35.0,79.7 L40.6,78.0 L46.5,77.1 L51.7,76.5 L55.2,78.1 L55.8,81.3 L52.8,85.1 L49.3,89.0 L45.5,93.0 L40.6,96.0 L37.7,96.5 L33.3,95.3 L29.8,93.6 L29.1,89.2 Z"/>
<path d="M172.5,18.3 L176.8,21.0 L176.5,26.0 L174.7,33.3 L172.5,40.0 L170.3,46.0 L167.0,52.0 L164.0,55.0 L161.5,50.0 L157.5,43.0 L156.4,37.5 L158.4,32.3 L162.3,25.7 L167.5,20.4 Z"/>
<path d="M-1.0,78.0 L7.3,69.4 L13.9,64.1 L20.4,60.6 L23.6,59.5"/>
<path d="M-1.0,93.0 L7.3,103.5 L8.5,106.0"/>
</g>
</g>
<rect x="0" y="0" width="177.0" height="105.0" fill="none" stroke="#000" stroke-width="1.15"/>
<line x1="0.00" y1="105.0" x2="0.00" y2="108.6" stroke="#000" stroke-width="0.9"/>
<text x="0.00" y="120.90" font-size="9.7" fill="#111" stroke="#111" stroke-width="0.25" text-anchor="middle" textLength="25.60" lengthAdjust="spacingAndGlyphs">106°E</text>
<line x1="44.24" y1="105.0" x2="44.24" y2="108.6" stroke="#000" stroke-width="0.9"/>
<text x="44.24" y="120.90" font-size="9.7" fill="#111" stroke="#111" stroke-width="0.25" text-anchor="middle" textLength="25.60" lengthAdjust="spacingAndGlyphs">110°E</text>
<line x1="88.48" y1="105.0" x2="88.48" y2="108.6" stroke="#000" stroke-width="0.9"/>
<text x="88.48" y="120.90" font-size="9.7" fill="#111" stroke="#111" stroke-width="0.25" text-anchor="middle" textLength="25.60" lengthAdjust="spacingAndGlyphs">114°E</text>
<line x1="132.72" y1="105.0" x2="132.72" y2="108.6" stroke="#000" stroke-width="0.9"/>
<text x="132.72" y="120.90" font-size="9.7" fill="#111" stroke="#111" stroke-width="0.25" text-anchor="middle" textLength="25.60" lengthAdjust="spacingAndGlyphs">118°E</text>
<line x1="176.96" y1="105.0" x2="176.96" y2="108.6" stroke="#000" stroke-width="0.9"/>
<text x="176.96" y="120.90" font-size="9.7" fill="#111" stroke="#111" stroke-width="0.25" text-anchor="middle" textLength="25.60" lengthAdjust="spacingAndGlyphs">122°E</text>
<line x1="-3.8" y1="105.00" x2="0" y2="105.00" stroke="#000" stroke-width="0.9"/>
<text x="-9.50" y="108.40" font-size="9.7" fill="#111" stroke="#111" stroke-width="0.25" text-anchor="end" textLength="29.00" lengthAdjust="spacingAndGlyphs">17.5°N</text>
<line x1="-3.8" y1="77.25" x2="0" y2="77.25" stroke="#000" stroke-width="0.9"/>
<text x="-9.50" y="80.65" font-size="9.7" fill="#111" stroke="#111" stroke-width="0.25" text-anchor="end" textLength="21.50" lengthAdjust="spacingAndGlyphs">20°N</text>
<line x1="-3.8" y1="49.50" x2="0" y2="49.50" stroke="#000" stroke-width="0.9"/>
<text x="-9.50" y="52.90" font-size="9.7" fill="#111" stroke="#111" stroke-width="0.25" text-anchor="end" textLength="29.00" lengthAdjust="spacingAndGlyphs">22.5°N</text>
<line x1="-3.8" y1="21.75" x2="0" y2="21.75" stroke="#000" stroke-width="0.9"/>
<text x="-9.50" y="25.15" font-size="9.7" fill="#111" stroke="#111" stroke-width="0.25" text-anchor="end" textLength="21.50" lengthAdjust="spacingAndGlyphs">25°N</text>
</g>
<text x="38.30" y="408.90" font-size="13.8" fill="#000" stroke="#000" stroke-width="0.25" font-weight="bold" textLength="9.20" lengthAdjust="spacingAndGlyphs">d</text>
<text x="264.40" y="409.00" font-size="13.8" fill="#000" stroke="#000" stroke-width="0.25" font-weight="bold" textLength="8.80" lengthAdjust="spacingAndGlyphs">e</text>
<text x="492.50" y="409.00" font-size="13.8" fill="#000" stroke="#000" stroke-width="0.25" font-weight="bold" textLength="6.60" lengthAdjust="spacingAndGlyphs">f</text>
<rect x="47.40" y="554.9" width="10.30" height="8.2" fill="#1f3c7f"/>
<rect x="57.40" y="554.9" width="10.30" height="8.2" fill="#2558a8"/>
<rect x="67.40" y="554.9" width="10.30" height="8.2" fill="#4a88c4"/>
<rect x="77.40" y="554.9" width="10.30" height="8.2" fill="#74b4e0"/>
<rect x="87.40" y="554.9" width="10.30" height="8.2" fill="#a3dbf5"/>
<rect x="97.40" y="554.9" width="10.30" height="8.2" fill="#cbe9f7"/>
<rect x="107.40" y="554.9" width="10.30" height="8.2" fill="#e8f5fb"/>
<rect x="117.40" y="554.9" width="10.30" height="8.2" fill="#ffffff"/>
<rect x="127.40" y="554.9" width="10.30" height="8.2" fill="#ffffff"/>
<rect x="137.40" y="554.9" width="10.30" height="8.2" fill="#fff3cc"/>
<rect x="147.40" y="554.9" width="10.30" height="8.2" fill="#fdd97f"/>
<rect x="157.40" y="554.9" width="10.30" height="8.2" fill="#fdb33f"/>
<rect x="167.40" y="554.9" width="10.30" height="8.2" fill="#f8862f"/>
<rect x="177.40" y="554.9" width="10.30" height="8.2" fill="#ea5228"/>
<rect x="187.40" y="554.9" width="10.30" height="8.2" fill="#d6202a"/>
<rect x="197.40" y="554.9" width="10.30" height="8.2" fill="#a8151d"/>
<rect x="47.4" y="554.9" width="160.0" height="8.2" fill="none" stroke="#222" stroke-width="0.9"/>
<line x1="47.40" y1="563.1" x2="47.40" y2="566.9" stroke="#222" stroke-width="0.9"/>
<text x="47.40" y="578.60" font-size="10.0" fill="#111" stroke="#111" stroke-width="0.25" text-anchor="middle" textLength="11.00" lengthAdjust="spacingAndGlyphs">−8</text>
<line x1="67.40" y1="563.1" x2="67.40" y2="566.9" stroke="#222" stroke-width="0.9"/>
<text x="67.40" y="578.60" font-size="10.0" fill="#111" stroke="#111" stroke-width="0.25" text-anchor="middle" textLength="11.00" lengthAdjust="spacingAndGlyphs">−6</text>
<line x1="87.40" y1="563.1" x2="87.40" y2="566.9" stroke="#222" stroke-width="0.9"/>
<text x="87.40" y="578.60" font-size="10.0" fill="#111" stroke="#111" stroke-width="0.25" text-anchor="middle" textLength="11.00" lengthAdjust="spacingAndGlyphs">−4</text>
<line x1="107.40" y1="563.1" x2="107.40" y2="566.9" stroke="#222" stroke-width="0.9"/>
<text x="107.40" y="578.60" font-size="10.0" fill="#111" stroke="#111" stroke-width="0.25" text-anchor="middle" textLength="11.00" lengthAdjust="spacingAndGlyphs">−2</text>
<line x1="127.40" y1="563.1" x2="127.40" y2="566.9" stroke="#222" stroke-width="0.9"/>
<text x="127.40" y="578.60" font-size="10.0" fill="#111" stroke="#111" stroke-width="0.25" text-anchor="middle" textLength="5.80" lengthAdjust="spacingAndGlyphs">0</text>
<line x1="147.40" y1="563.1" x2="147.40" y2="566.9" stroke="#222" stroke-width="0.9"/>
<text x="147.40" y="578.60" font-size="10.0" fill="#111" stroke="#111" stroke-width="0.25" text-anchor="middle" textLength="5.80" lengthAdjust="spacingAndGlyphs">2</text>
<line x1="167.40" y1="563.1" x2="167.40" y2="566.9" stroke="#222" stroke-width="0.9"/>
<text x="167.40" y="578.60" font-size="10.0" fill="#111" stroke="#111" stroke-width="0.25" text-anchor="middle" textLength="5.80" lengthAdjust="spacingAndGlyphs">4</text>
<line x1="187.40" y1="563.1" x2="187.40" y2="566.9" stroke="#222" stroke-width="0.9"/>
<text x="187.40" y="578.60" font-size="10.0" fill="#111" stroke="#111" stroke-width="0.25" text-anchor="middle" textLength="5.80" lengthAdjust="spacingAndGlyphs">6</text>
<line x1="207.40" y1="563.1" x2="207.40" y2="566.9" stroke="#222" stroke-width="0.9"/>
<text x="207.40" y="578.60" font-size="10.0" fill="#111" stroke="#111" stroke-width="0.25" text-anchor="middle" textLength="5.80" lengthAdjust="spacingAndGlyphs">8</text>
<rect x="272.90" y="554.8" width="10.30" height="8.2" fill="#fffbc3"/>
<rect x="282.90" y="554.8" width="10.30" height="8.2" fill="#fff1a9"/>
<rect x="292.90" y="554.8" width="10.30" height="8.2" fill="#ffe793"/>
<rect x="302.90" y="554.8" width="10.30" height="8.2" fill="#fedd7e"/>
<rect x="312.90" y="554.8" width="10.30" height="8.2" fill="#fecf6c"/>
<rect x="322.90" y="554.8" width="10.30" height="8.2" fill="#febb53"/>
<rect x="332.90" y="554.8" width="10.30" height="8.2" fill="#fea847"/>
<rect x="342.90" y="554.8" width="10.30" height="8.2" fill="#fd9640"/>
<rect x="352.90" y="554.8" width="10.30" height="8.2" fill="#fd7d37"/>
<rect x="362.90" y="554.8" width="10.30" height="8.2" fill="#fc5e2e"/>
<rect x="372.90" y="554.8" width="10.30" height="8.2" fill="#f64127"/>
<rect x="382.90" y="554.8" width="10.30" height="8.2" fill="#e9271f"/>
<rect x="392.90" y="554.8" width="10.30" height="8.2" fill="#d9141e"/>
<rect x="402.90" y="554.8" width="10.30" height="8.2" fill="#c30524"/>
<rect x="412.90" y="554.8" width="10.30" height="8.2" fill="#ad0026"/>
<rect x="422.90" y="554.8" width="10.30" height="8.2" fill="#8f0026"/>
<rect x="272.9" y="554.8" width="160.0" height="8.2" fill="none" stroke="#222" stroke-width="0.9"/>
<line x1="272.90" y1="563.0" x2="272.90" y2="566.8" stroke="#222" stroke-width="0.9"/>
<text x="272.90" y="578.60" font-size="10.0" fill="#111" stroke="#111" stroke-width="0.25" text-anchor="middle" textLength="5.80" lengthAdjust="spacingAndGlyphs">0</text>
<line x1="292.90" y1="563.0" x2="292.90" y2="566.8" stroke="#222" stroke-width="0.9"/>
<text x="292.90" y="578.60" font-size="10.0" fill="#111" stroke="#111" stroke-width="0.25" text-anchor="middle" textLength="11.60" lengthAdjust="spacingAndGlyphs">10</text>
<line x1="312.90" y1="563.0" x2="312.90" y2="566.8" stroke="#222" stroke-width="0.9"/>
<text x="312.90" y="578.60" font-size="10.0" fill="#111" stroke="#111" stroke-width="0.25" text-anchor="middle" textLength="11.60" lengthAdjust="spacingAndGlyphs">20</text>
<line x1="332.90" y1="563.0" x2="332.90" y2="566.8" stroke="#222" stroke-width="0.9"/>
<text x="332.90" y="578.60" font-size="10.0" fill="#111" stroke="#111" stroke-width="0.25" text-anchor="middle" textLength="11.60" lengthAdjust="spacingAndGlyphs">30</text>
<line x1="352.90" y1="563.0" x2="352.90" y2="566.8" stroke="#222" stroke-width="0.9"/>
<text x="352.90" y="578.60" font-size="10.0" fill="#111" stroke="#111" stroke-width="0.25" text-anchor="middle" textLength="11.60" lengthAdjust="spacingAndGlyphs">40</text>
<line x1="372.90" y1="563.0" x2="372.90" y2="566.8" stroke="#222" stroke-width="0.9"/>
<text x="372.90" y="578.60" font-size="10.0" fill="#111" stroke="#111" stroke-width="0.25" text-anchor="middle" textLength="11.60" lengthAdjust="spacingAndGlyphs">50</text>
<line x1="392.90" y1="563.0" x2="392.90" y2="566.8" stroke="#222" stroke-width="0.9"/>
<text x="392.90" y="578.60" font-size="10.0" fill="#111" stroke="#111" stroke-width="0.25" text-anchor="middle" textLength="11.60" lengthAdjust="spacingAndGlyphs">60</text>
<line x1="412.90" y1="563.0" x2="412.90" y2="566.8" stroke="#222" stroke-width="0.9"/>
<text x="412.90" y="578.60" font-size="10.0" fill="#111" stroke="#111" stroke-width="0.25" text-anchor="middle" textLength="11.60" lengthAdjust="spacingAndGlyphs">70</text>
<line x1="432.90" y1="563.0" x2="432.90" y2="566.8" stroke="#222" stroke-width="0.9"/>
<text x="432.90" y="578.60" font-size="10.0" fill="#111" stroke="#111" stroke-width="0.25" text-anchor="middle" textLength="11.60" lengthAdjust="spacingAndGlyphs">80</text>
<rect x="498.30" y="554.9" width="8.30" height="8.2" fill="#1f3c7f"/>
<rect x="506.30" y="554.9" width="8.30" height="8.2" fill="#234f9e"/>
<rect x="514.30" y="554.9" width="8.30" height="8.2" fill="#2f6bb5"/>
<rect x="522.30" y="554.9" width="8.30" height="8.2" fill="#4a88c4"/>
<rect x="530.30" y="554.9" width="8.30" height="8.2" fill="#67a8da"/>
<rect x="538.30" y="554.9" width="8.30" height="8.2" fill="#85c3ea"/>
<rect x="546.30" y="554.9" width="8.30" height="8.2" fill="#a3dbf5"/>
<rect x="554.30" y="554.9" width="8.30" height="8.2" fill="#c3e6f7"/>
<rect x="562.30" y="554.9" width="8.30" height="8.2" fill="#dff1fa"/>
<rect x="570.30" y="554.9" width="8.30" height="8.2" fill="#f2f9fd"/>
<rect x="578.30" y="554.9" width="8.30" height="8.2" fill="#ffffff"/>
<rect x="586.30" y="554.9" width="8.30" height="8.2" fill="#fff3d6"/>
<rect x="594.30" y="554.9" width="8.30" height="8.2" fill="#fee7a6"/>
<rect x="602.30" y="554.9" width="8.30" height="8.2" fill="#fdcf74"/>
<rect x="610.30" y="554.9" width="8.30" height="8.2" fill="#fdb03c"/>
<rect x="618.30" y="554.9" width="8.30" height="8.2" fill="#fb9233"/>
<rect x="626.30" y="554.9" width="8.30" height="8.2" fill="#f2682c"/>
<rect x="634.30" y="554.9" width="8.30" height="8.2" fill="#e54a2a"/>
<rect x="642.30" y="554.9" width="8.30" height="8.2" fill="#d42428"/>
<rect x="650.30" y="554.9" width="8.30" height="8.2" fill="#a8191e"/>
<rect x="498.3" y="554.9" width="160.0" height="8.2" fill="none" stroke="#222" stroke-width="0.9"/>
<line x1="506.30" y1="563.1" x2="506.30" y2="566.9" stroke="#222" stroke-width="0.9"/>
<text x="506.30" y="578.60" font-size="10.0" fill="#111" stroke="#111" stroke-width="0.25" text-anchor="middle" textLength="19.60" lengthAdjust="spacingAndGlyphs">−2.7</text>
<line x1="530.30" y1="563.1" x2="530.30" y2="566.9" stroke="#222" stroke-width="0.9"/>
<text x="530.30" y="578.60" font-size="10.0" fill="#111" stroke="#111" stroke-width="0.25" text-anchor="middle" textLength="19.60" lengthAdjust="spacingAndGlyphs">−1.8</text>
<line x1="554.30" y1="563.1" x2="554.30" y2="566.9" stroke="#222" stroke-width="0.9"/>
<text x="554.30" y="578.60" font-size="10.0" fill="#111" stroke="#111" stroke-width="0.25" text-anchor="middle" textLength="19.60" lengthAdjust="spacingAndGlyphs">−0.9</text>
<line x1="578.30" y1="563.1" x2="578.30" y2="566.9" stroke="#222" stroke-width="0.9"/>
<text x="578.30" y="578.60" font-size="10.0" fill="#111" stroke="#111" stroke-width="0.25" text-anchor="middle" textLength="13.00" lengthAdjust="spacingAndGlyphs">0.0</text>
<line x1="602.30" y1="563.1" x2="602.30" y2="566.9" stroke="#222" stroke-width="0.9"/>
<text x="602.30" y="578.60" font-size="10.0" fill="#111" stroke="#111" stroke-width="0.25" text-anchor="middle" textLength="13.00" lengthAdjust="spacingAndGlyphs">0.9</text>
<line x1="626.30" y1="563.1" x2="626.30" y2="566.9" stroke="#222" stroke-width="0.9"/>
<text x="626.30" y="578.60" font-size="10.0" fill="#111" stroke="#111" stroke-width="0.25" text-anchor="middle" textLength="13.00" lengthAdjust="spacingAndGlyphs">1.8</text>
<line x1="650.30" y1="563.1" x2="650.30" y2="566.9" stroke="#222" stroke-width="0.9"/>
<text x="650.30" y="578.60" font-size="10.0" fill="#111" stroke="#111" stroke-width="0.25" text-anchor="middle" textLength="13.00" lengthAdjust="spacingAndGlyphs">2.7</text>
</svg>
</body></html>
